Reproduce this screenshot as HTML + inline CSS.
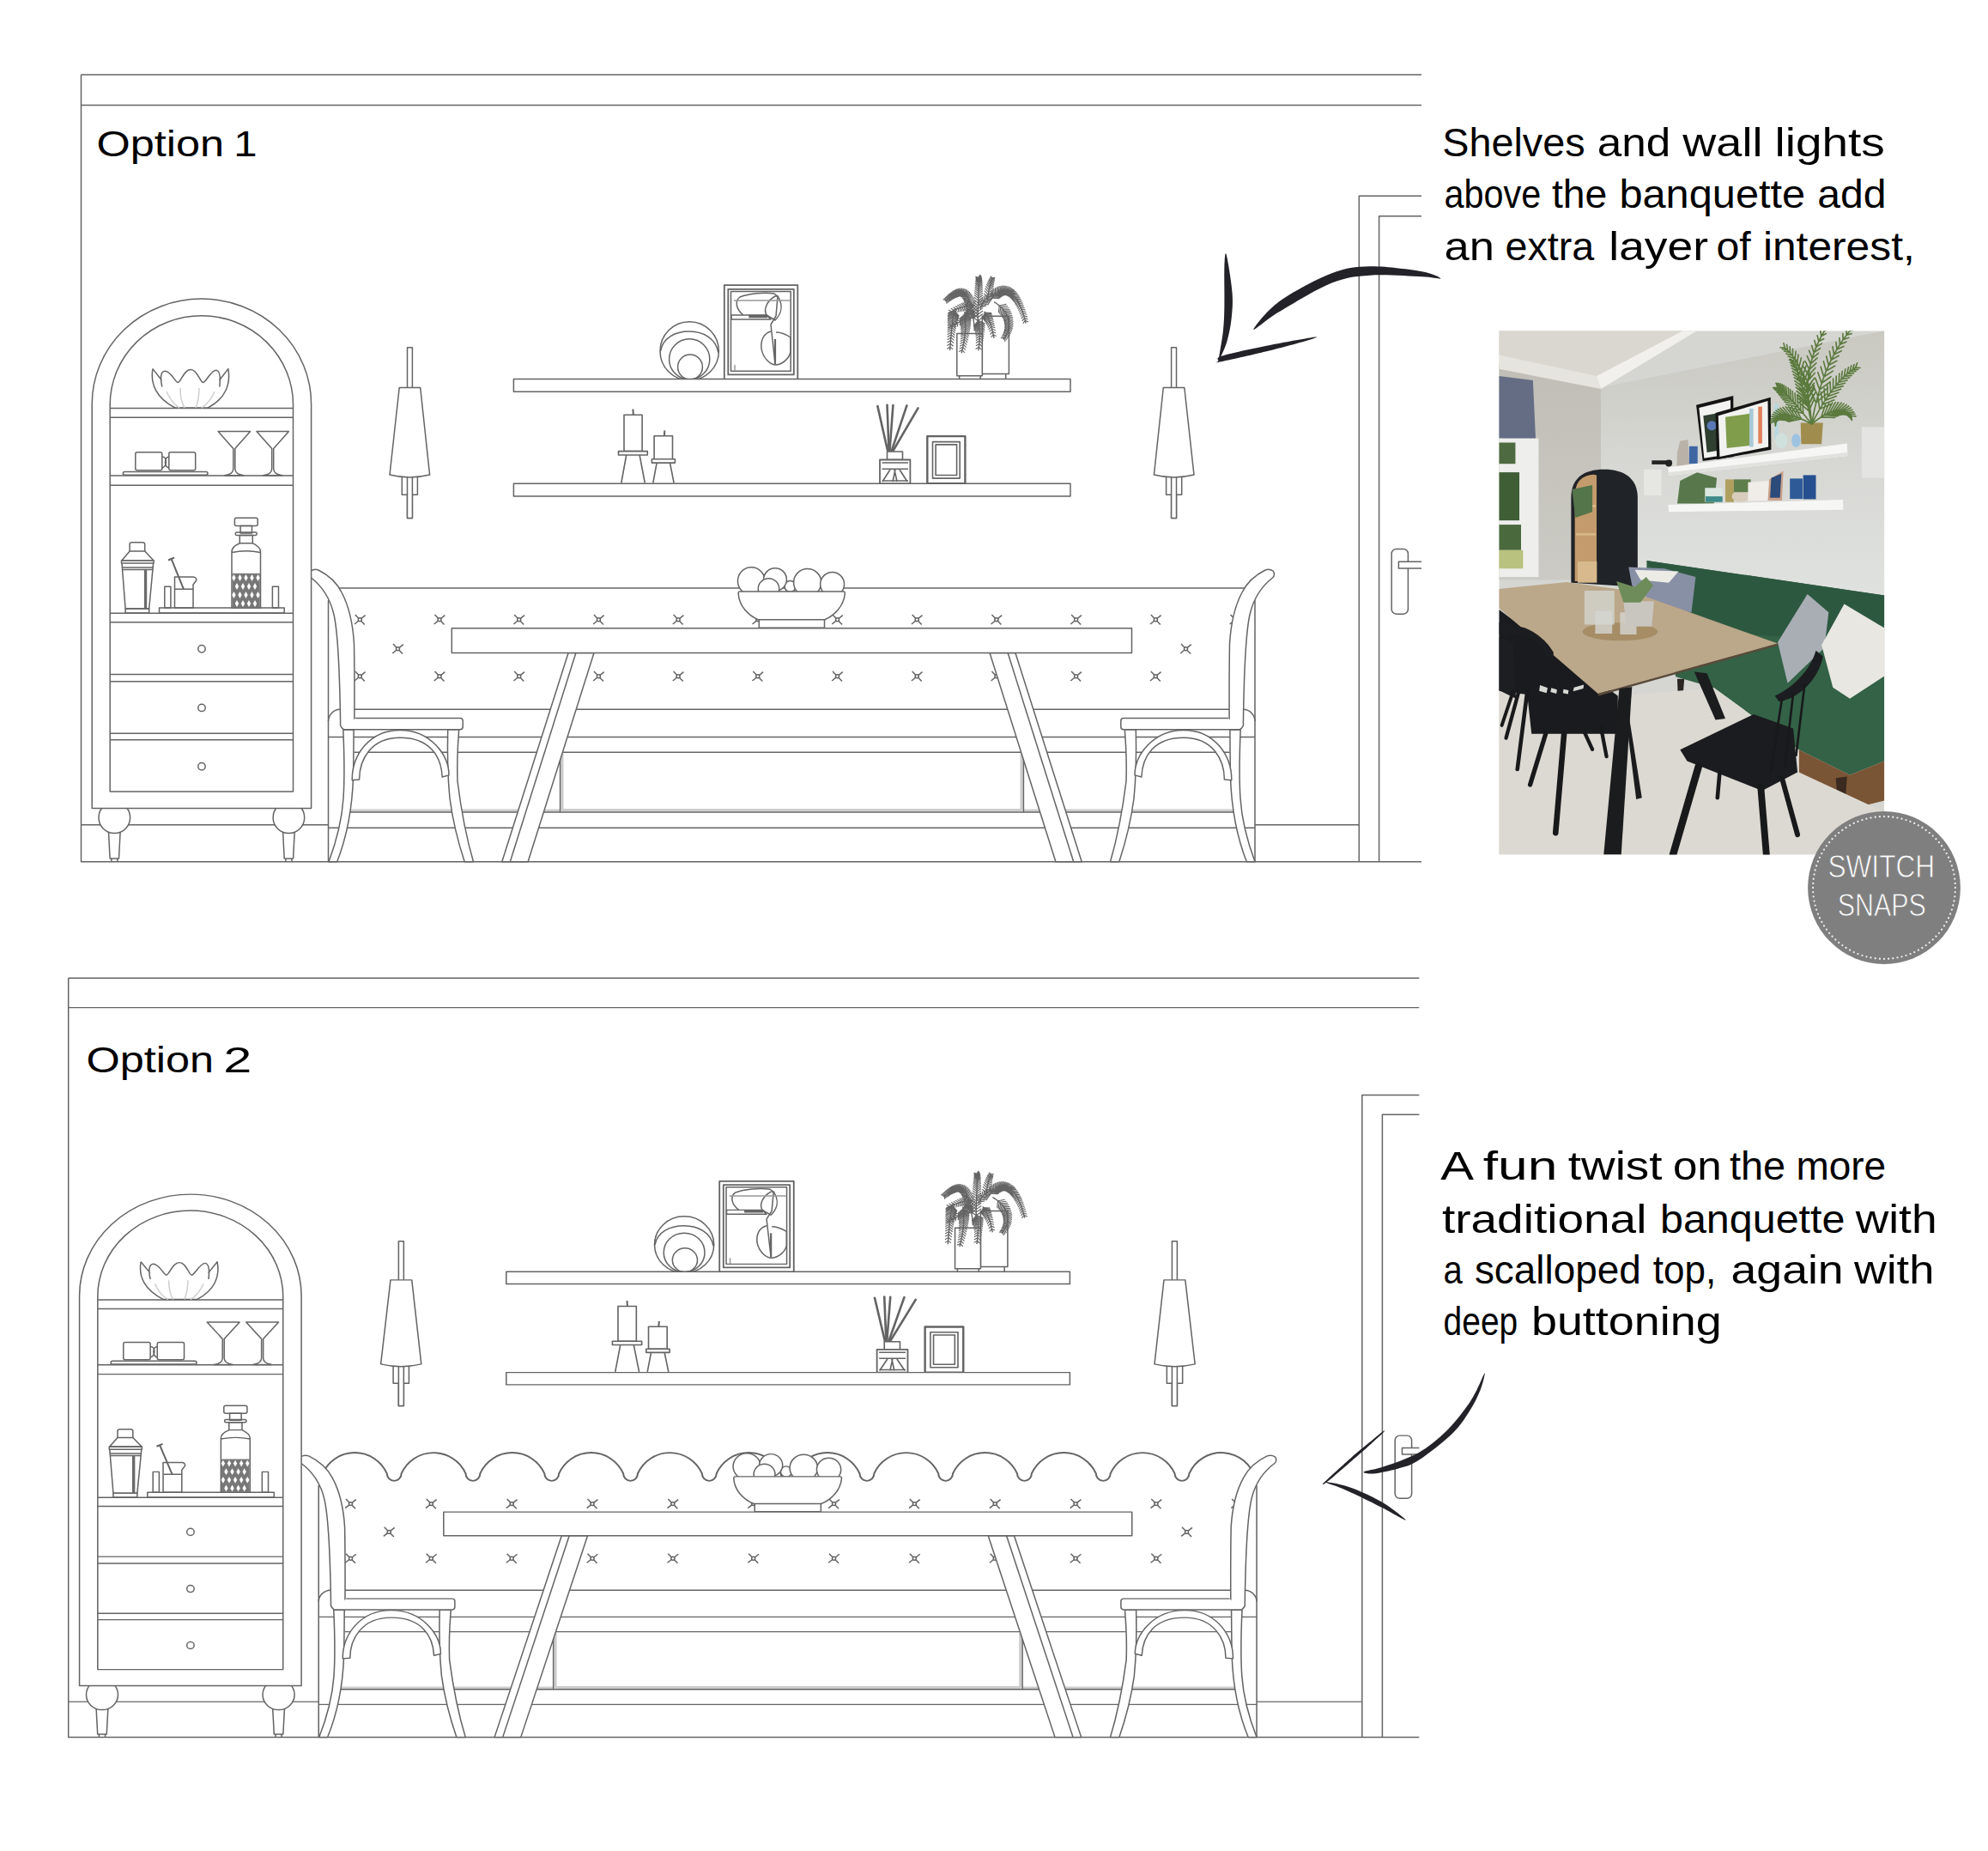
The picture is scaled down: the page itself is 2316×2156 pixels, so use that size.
<!DOCTYPE html><html><head><meta charset="utf-8"><style>html,body{margin:0;padding:0;background:#fff;overflow:hidden;width:2316px;height:2156px;}svg{display:block}</style></head><body><svg width="2316" height="2156" viewBox="0 0 2316 2156"><defs><clipPath id="c1"><rect x="0" y="0" width="1656.5" height="1100"/></clipPath><clipPath id="c2"><rect x="0" y="0" width="1653.3" height="2156"/></clipPath></defs><rect width="2316" height="2156" fill="#fff"/><g clip-path="url(#c1)"><g fill="none" stroke="#646464" stroke-width="1.5" stroke-linejoin="round"><path d="M94.5,86.9H1656M94.5,122.6H1656M94.5,86.9V1003.8H1656"/><path d="M94.5,960.8H382.5M1462,960.8H1583.3"/><path d="M1583.3,1003.8V228.3H1656M1606.6,1003.8V251.8H1656"/><rect x="1621.2" y="639.4" width="19.2" height="75.8" rx="5.5"/><path d="M1656,654.3H1629.4V662H1656" fill="#fff"/><circle cx="803.2" cy="408.9" r="34.2" fill="#fff"/><path d="M769.5,409.2C772,394 786,386.1 803.2,386.1C820,386.1 834,395 836.8,410.5"/><path d="M769.5,409.2C770,426 785,441.8 803.2,441.8C821,441.8 836,426 836.8,410.5" stroke="none"/><circle cx="803.2" cy="418.4" r="23.6"/><circle cx="804" cy="427.5" r="14.4"/><rect x="843.8" y="332.2" width="85.5" height="109.6" fill="#fff" stroke-width="1.8"/><rect x="848.3" y="336.8" width="76.5" height="99.6" stroke-width="1.8"/><rect x="851.5" y="339.5" width="69.7" height="92.8"/><path d="M866,367C857,360 856,350 862,346C872,342 890,340 902,342L907,346"/><path d="M852,367H893L898,372H852Z"/><path d="M872.3,368.5H894" stroke-width="3.5"/><path d="M903,345C894,350 889,360 893,367L903,373C910,366 913,356 906,345Z"/><path d="M906,345L904,368L898,378L903,424"/><path d="M898,386C890,388 886,396 887,406C889,418 898,425 904,425C912,424 919,418 921,410V393C915,389 908,387 904,387"/><path d="M903,395V424" stroke-width="2.2"/><path d="M856,425V432M855,350H921" stroke="#999"/><path d="M1144.3,368.2H1175.4V435.5H1144.3Z" fill="#fff"/><path d="M1171.7,435.5V441.9"/><path d="M1114.8,388.6H1144.3V437.8H1114.8Z" fill="#fff"/><path d="M1117.6,437.8V441.9M1142.2,437.8V441.9"/><path d="M1135.4,385.6L1135.1,381.6L1134.8,377.9L1134.4,374.4L1134.0,371.0L1133.6,367.9L1133.1,365.0L1132.6,362.2L1132.1,359.7L1131.5,357.3L1130.9,355.1L1130.3,353.1L1129.6,351.2L1128.9,349.6L1128.2,348.0L1127.4,346.7L1126.6,345.5L1125.8,344.4L1124.9,343.5L1124.1,342.8L1123.1,342.1L1122.2,341.7L1121.2,341.3L1120.2,341.0L1119.2,340.9L1118.2,340.9L1117.1,341.0L1116.0,341.3L1114.9,341.6L1113.8,342.0L1112.6,342.5L1111.4,343.1L1110.2,343.8L1109.0,344.6L1107.8,345.5L1106.5,346.4L1105.2,347.4L1103.9,348.5L1102.6,349.6L1101.3,350.8M1139.0,385.6L1139.0,381.5L1139.0,377.5L1139.1,373.6L1139.1,369.8L1139.2,366.2L1139.3,362.7L1139.4,359.3L1139.5,356.1L1139.6,353.0L1139.7,350.1L1139.8,347.3L1139.9,344.6L1140.0,342.1L1140.1,339.7L1140.1,337.5L1140.2,335.4L1140.3,333.5L1140.3,331.7L1140.4,330.1L1140.4,328.7L1140.4,327.3L1140.4,326.2L1140.3,325.2L1140.3,324.4L1140.2,323.7L1140.1,323.2L1139.9,322.9M1150.5,350.0L1150.9,346.4L1151.3,343.2L1151.8,340.3L1152.2,337.6L1152.7,335.2L1153.2,333.1L1153.8,331.1L1154.3,329.3L1154.8,327.6L1155.4,325.9L1155.9,324.4L1156.5,322.9M1150.5,355.4L1151.6,353.5L1152.7,351.7L1153.9,350.1L1155.0,348.5L1156.2,347.1L1157.3,345.7L1158.5,344.5L1159.7,343.4L1160.9,342.4L1162.1,341.6L1163.2,340.8L1164.4,340.2L1165.6,339.6L1166.8,339.2L1168.0,339.0L1169.2,338.8L1170.4,338.8L1171.6,338.8L1172.7,339.0L1173.9,339.4L1175.1,339.8L1176.2,340.4L1177.4,341.1L1178.5,342.0L1179.6,342.9L1180.7,344.0L1181.8,345.2L1182.9,346.6L1184.0,348.1L1185.0,349.7L1186.0,351.4L1187.0,353.3L1188.0,355.4L1189.0,357.5L1190.0,359.8L1190.9,362.2L1191.8,364.8L1192.6,367.5L1193.5,370.4L1194.3,373.4L1195.1,376.5M1158.0,351.6L1160.2,353.0L1162.3,354.5L1164.2,356.0L1165.9,357.6L1167.5,359.2L1168.9,360.9L1170.2,362.6L1171.4,364.4L1172.4,366.2L1173.2,368.0L1173.9,369.8L1174.5,371.7L1174.9,373.6L1175.1,375.5L1175.3,377.4L1175.2,379.3L1175.1,381.1L1174.8,383.0L1174.3,384.9L1173.7,386.7L1173.0,388.5L1172.1,390.3L1171.1,392.0L1169.9,393.7L1168.6,395.4M1146.7,362.9L1147.4,364.0L1148.2,365.2L1148.9,366.5L1149.7,367.8L1150.5,369.4L1151.4,371.1L1152.2,373.0L1153.0,375.1L1153.9,377.4L1154.7,380.1L1155.6,383.0L1156.4,386.3L1157.2,389.9L1158.0,393.9M1139.0,370.5L1139.4,371.9L1139.7,373.3L1140.1,374.8L1140.4,376.4L1140.7,378.0L1141.0,379.8L1141.2,381.7L1141.4,383.7L1141.5,385.9L1141.5,388.3L1141.5,391.0L1141.3,393.9L1141.1,397.0L1140.8,400.5L1140.4,404.2L1139.9,408.3M1124.0,362.9L1124.1,364.5L1124.3,366.1L1124.4,367.7L1124.6,369.4L1124.7,371.1L1124.8,372.9L1124.8,374.7L1124.8,376.6L1124.8,378.5L1124.8,380.6L1124.7,382.7L1124.6,385.0L1124.4,387.3L1124.1,389.8L1123.8,392.4L1123.4,395.2L1122.9,398.1L1122.4,401.1L1121.7,404.3L1121.0,407.7L1120.2,411.3M1112.7,359.1L1112.3,360.4L1112.0,361.7L1111.6,363.0L1111.3,364.4L1111.0,365.9L1110.7,367.4L1110.4,369.1L1110.2,370.8L1109.9,372.7L1109.6,374.6L1109.4,376.8L1109.1,379.0L1108.9,381.4L1108.6,384.1L1108.3,386.9L1108.1,389.9L1107.8,393.1L1107.5,396.5L1107.2,400.2L1106.9,404.1L1106.6,408.3M1135.4,355.4L1133.7,355.5L1131.9,355.7L1130.1,355.9L1128.3,356.2L1126.3,356.6L1124.2,357.0L1122.0,357.6L1119.7,358.3L1117.2,359.2L1114.5,360.2L1111.6,361.4L1108.5,362.8L1105.1,364.4M1135.4,359.1L1134.6,360.2L1133.8,361.3L1132.9,362.4L1132.0,363.5L1131.0,364.7L1129.9,365.9L1128.6,367.1L1127.1,368.4L1125.4,369.8L1123.5,371.2L1121.3,372.7L1118.8,374.3L1115.9,376.0L1112.7,377.8L1109.1,379.7L1105.1,381.8M1142.0,360.0L1142.8,357.6L1143.7,355.4L1144.7,353.4L1145.8,351.6L1147.0,350.0L1148.4,348.5L1149.9,347.2L1151.6,346.1L1153.4,345.1L1155.4,344.3L1157.6,343.6L1160.0,343.0" stroke-width="1.4"/><path d="M1134.0,371.0L1140.1,365.0M1134.0,371.0L1126.6,366.9M1133.6,367.9L1139.4,361.9M1133.6,367.9L1126.2,364.0M1133.1,365.0L1138.7,358.9M1133.1,365.0L1125.8,361.3M1132.6,362.2L1138.0,356.1M1132.6,362.2L1125.3,358.8M1132.1,359.7L1137.2,353.5M1132.1,359.7L1124.8,356.5M1131.5,357.3L1136.3,351.1M1131.5,357.3L1124.2,354.4M1130.9,355.1L1135.4,348.8M1130.9,355.1L1123.6,352.5M1130.3,353.1L1134.4,346.7M1130.3,353.1L1123.0,350.9M1129.6,351.2L1133.4,344.8M1129.6,351.2L1122.4,349.4M1128.9,349.6L1132.3,343.0M1128.9,349.6L1121.7,348.2M1128.2,348.0L1131.1,341.4M1128.2,348.0L1121.0,347.1M1127.4,346.7L1129.8,340.0M1127.4,346.7L1120.3,346.3M1126.6,345.5L1128.4,338.8M1126.6,345.5L1119.6,345.6M1125.8,344.4L1126.9,337.7M1125.8,344.4L1119.0,345.2M1124.9,343.5L1125.4,336.8M1124.9,343.5L1118.4,345.0M1124.1,342.8L1123.8,336.2M1124.1,342.8L1117.8,344.9M1123.1,342.1L1122.1,335.8M1123.1,342.1L1117.3,344.9M1122.2,341.7L1120.4,335.6M1122.2,341.7L1116.9,345.1M1121.2,341.3L1118.8,335.6M1121.2,341.3L1116.5,345.2M1120.2,341.0L1117.2,335.8M1120.2,341.0L1116.1,345.5M1119.2,340.9L1115.7,336.2M1119.2,340.9L1115.7,345.7M1118.2,340.9L1114.2,336.7M1118.2,340.9L1115.2,345.9M1117.1,341.0L1112.9,337.3M1117.1,341.0L1114.7,346.2M1116.0,341.3L1111.6,337.9M1116.0,341.3L1114.1,346.5M1114.9,341.6L1110.3,338.6M1114.9,341.6L1113.4,346.8M1113.8,342.0L1109.1,339.4M1113.8,342.0L1112.6,347.2M1112.6,342.5L1107.9,340.3M1112.6,342.5L1111.8,347.7M1111.4,343.1L1106.8,341.2M1111.4,343.1L1110.8,348.2M1110.2,343.8L1105.6,342.1M1110.2,343.8L1109.9,348.8M1109.0,344.6L1104.5,343.1M1109.0,344.6L1108.8,349.4M1107.8,345.5L1103.3,344.1M1107.8,345.5L1107.7,350.2M1106.5,346.4L1102.1,345.2M1106.5,346.4L1106.6,351.0M1105.2,347.4L1100.9,346.4M1105.2,347.4L1105.4,351.8M1103.9,348.5L1099.7,347.6M1103.9,348.5L1104.2,352.8M1102.6,349.6L1098.5,348.8M1102.6,349.6L1103.0,353.8M1139.1,373.6L1145.2,369.2M1139.1,373.6L1133.1,369.0M1139.1,369.8L1145.1,365.5M1139.1,369.8L1133.3,365.3M1139.2,366.2L1145.1,362.0M1139.2,366.2L1133.6,361.7M1139.3,362.7L1145.0,358.6M1139.3,362.7L1133.8,358.3M1139.4,359.3L1145.0,355.4M1139.4,359.3L1134.0,355.1M1139.5,356.1L1145.0,352.3M1139.5,356.1L1134.2,351.9M1139.6,353.0L1144.9,349.3M1139.6,353.0L1134.5,348.9M1139.7,350.1L1144.9,346.5M1139.7,350.1L1134.7,346.1M1139.8,347.3L1144.9,343.7M1139.8,347.3L1134.9,343.4M1139.9,344.6L1144.8,341.2M1139.9,344.6L1135.2,340.8M1140.0,342.1L1144.8,338.8M1140.0,342.1L1135.4,338.4M1140.1,339.7L1144.8,336.5M1140.1,339.7L1135.6,336.1M1140.1,337.5L1144.7,334.3M1140.1,337.5L1135.8,334.0M1140.2,335.4L1144.6,332.3M1140.2,335.4L1136.0,332.1M1140.3,333.5L1144.6,330.5M1140.3,333.5L1136.2,330.2M1140.3,331.7L1144.5,328.8M1140.3,331.7L1136.3,328.6M1140.4,330.1L1144.3,327.2M1140.4,330.1L1136.5,327.1M1140.4,328.7L1144.2,325.8M1140.4,328.7L1136.6,325.8M1140.4,327.3L1144.0,324.5M1140.4,327.3L1136.7,324.7M1140.4,326.2L1143.8,323.4M1140.4,326.2L1136.7,323.7M1140.3,325.2L1143.5,322.4M1140.3,325.2L1136.7,322.9M1140.3,324.4L1143.2,321.5M1140.3,324.4L1136.7,322.4M1140.2,323.7L1142.7,320.7M1140.2,323.7L1136.6,322.2M1140.1,323.2L1141.8,319.9M1140.1,323.2L1136.4,322.4M1150.9,346.4L1156.7,343.1M1150.9,346.4L1146.1,341.8M1151.3,343.2L1156.9,340.2M1151.3,343.2L1146.9,338.7M1151.8,340.3L1157.2,337.6M1151.8,340.3L1147.6,335.9M1152.2,337.6L1157.4,335.2M1152.2,337.6L1148.4,333.4M1152.7,335.2L1157.7,333.1M1152.7,335.2L1149.3,331.1M1153.2,333.1L1157.9,331.2M1153.2,333.1L1150.1,329.1M1153.8,331.1L1158.2,329.4M1153.8,331.1L1150.9,327.3M1154.3,329.3L1158.5,327.8M1154.3,329.3L1151.7,325.6M1154.8,327.6L1158.8,326.3M1154.8,327.6L1152.5,324.2M1155.4,325.9L1159.0,324.8M1155.4,325.9L1153.3,322.8M1155.9,324.4L1159.3,323.4M1155.9,324.4L1154.1,321.5M1156.2,347.1L1164.5,347.7M1156.2,347.1L1154.4,338.9M1157.3,345.7L1165.5,346.8M1157.3,345.7L1156.0,337.6M1158.5,344.5L1166.5,345.9M1158.5,344.5L1157.6,336.4M1159.7,343.4L1167.5,345.3M1159.7,343.4L1159.3,335.4M1160.9,342.4L1168.4,344.7M1160.9,342.4L1160.9,334.5M1162.1,341.6L1169.3,344.3M1162.1,341.6L1162.6,333.8M1163.2,340.8L1170.2,344.0M1163.2,340.8L1164.4,333.2M1164.4,340.2L1171.0,343.9M1164.4,340.2L1166.2,332.8M1165.6,339.6L1171.7,343.8M1165.6,339.6L1167.9,332.6M1166.8,339.2L1172.4,343.9M1166.8,339.2L1169.7,332.5M1168.0,339.0L1173.1,344.1M1168.0,339.0L1171.5,332.7M1169.2,338.8L1173.6,344.3M1169.2,338.8L1173.2,333.0M1170.4,338.8L1174.1,344.6M1170.4,338.8L1174.9,333.5M1171.6,338.8L1174.7,344.9M1171.6,338.8L1176.5,334.2M1172.7,339.0L1175.1,345.3M1172.7,339.0L1178.1,335.0M1173.9,339.4L1175.7,345.7M1173.9,339.4L1179.5,335.9M1175.1,339.8L1176.2,346.2M1175.1,339.8L1180.9,337.0M1176.2,340.4L1176.8,346.7M1176.2,340.4L1182.1,338.1M1177.4,341.1L1177.4,347.3M1177.4,341.1L1183.3,339.3M1178.5,342.0L1178.1,348.0M1178.5,342.0L1184.5,340.6M1179.6,342.9L1178.8,348.8M1179.6,342.9L1185.5,342.0M1180.7,344.0L1179.6,349.8M1180.7,344.0L1186.6,343.5M1181.8,345.2L1180.4,350.8M1181.8,345.2L1187.6,345.1M1182.9,346.6L1181.2,351.9M1182.9,346.6L1188.5,346.7M1184.0,348.1L1182.1,353.2M1184.0,348.1L1189.4,348.5M1185.0,349.7L1182.9,354.7M1185.0,349.7L1190.4,350.3M1186.0,351.4L1183.8,356.2M1186.0,351.4L1191.2,352.2M1187.0,353.3L1184.7,357.9M1187.0,353.3L1192.1,354.3M1188.0,355.4L1185.6,359.7M1188.0,355.4L1192.9,356.5M1189.0,357.5L1186.5,361.7M1189.0,357.5L1193.7,358.7M1190.0,359.8L1187.4,363.8M1190.0,359.8L1194.5,361.1M1190.9,362.2L1188.3,366.1M1190.9,362.2L1195.3,363.7M1191.8,364.8L1189.2,368.5M1191.8,364.8L1196.1,366.3M1192.6,367.5L1190.0,371.1M1192.6,367.5L1196.8,369.1M1193.5,370.4L1190.9,373.8M1193.5,370.4L1197.5,372.0M1194.3,373.4L1191.7,376.6M1194.3,373.4L1198.2,375.0M1164.2,356.0L1163.4,364.3M1164.2,356.0L1172.4,354.4M1165.9,357.6L1164.6,365.7M1165.9,357.6L1174.0,356.5M1167.5,359.2L1165.8,367.0M1167.5,359.2L1175.5,358.7M1168.9,360.9L1166.8,368.4M1168.9,360.9L1176.7,360.9M1170.2,362.6L1167.6,369.7M1170.2,362.6L1177.8,363.1M1171.4,364.4L1168.3,371.1M1171.4,364.4L1178.7,365.4M1172.4,366.2L1169.0,372.5M1172.4,366.2L1179.4,367.7M1173.2,368.0L1169.5,373.9M1173.2,368.0L1180.0,369.9M1173.9,369.8L1169.9,375.3M1173.9,369.8L1180.3,372.2M1174.5,371.7L1170.1,376.7M1174.5,371.7L1180.5,374.5M1174.9,373.6L1170.3,378.1M1174.9,373.6L1180.5,376.7M1175.1,375.5L1170.4,379.5M1175.1,375.5L1180.4,378.9M1175.3,377.4L1170.4,380.9M1175.3,377.4L1180.0,381.0M1175.2,379.3L1170.3,382.3M1175.2,379.3L1179.6,383.2M1175.1,381.1L1170.1,383.7M1175.1,381.1L1179.0,385.2M1174.8,383.0L1169.8,385.1M1174.8,383.0L1178.2,387.2M1174.3,384.9L1169.3,386.6M1174.3,384.9L1177.3,389.2M1173.7,386.7L1168.8,388.0M1173.7,386.7L1176.3,391.0M1173.0,388.5L1168.2,389.4M1173.0,388.5L1175.1,392.8M1172.1,390.3L1167.5,390.8M1172.1,390.3L1173.9,394.6M1171.1,392.0L1166.6,392.2M1171.1,392.0L1172.5,396.2M1169.9,393.7L1165.7,393.7M1169.9,393.7L1171.0,397.8M1147.4,364.0L1144.7,371.2M1147.4,364.0L1155.1,364.6M1148.2,365.2L1145.4,372.0M1148.2,365.2L1155.5,365.9M1148.9,366.5L1146.1,372.9M1148.9,366.5L1155.9,367.3M1149.7,367.8L1146.9,373.9M1149.7,367.8L1156.4,368.9M1150.5,369.4L1147.6,375.1M1150.5,369.4L1156.9,370.6M1151.4,371.1L1148.4,376.4M1151.4,371.1L1157.3,372.5M1152.2,373.0L1149.2,377.9M1152.2,373.0L1157.8,374.5M1153.0,375.1L1150.0,379.6M1153.0,375.1L1158.3,376.7M1153.9,377.4L1150.9,381.7M1153.9,377.4L1158.8,379.1M1154.7,380.1L1151.8,383.9M1154.7,380.1L1159.3,381.8M1155.6,383.0L1152.7,386.5M1155.6,383.0L1159.7,384.8M1156.4,386.3L1153.6,389.5M1156.4,386.3L1160.2,388.0M1157.2,389.9L1154.6,392.8M1157.2,389.9L1160.7,391.6M1139.7,373.3L1134.4,379.8M1139.7,373.3L1147.4,376.7M1140.1,374.8L1134.8,380.9M1140.1,374.8L1147.4,378.2M1140.4,376.4L1135.1,382.1M1140.4,376.4L1147.4,379.8M1140.7,378.0L1135.5,383.3M1140.7,378.0L1147.3,381.6M1141.0,379.8L1135.8,384.7M1141.0,379.8L1147.1,383.4M1141.2,381.7L1136.1,386.2M1141.2,381.7L1147.0,385.3M1141.4,383.7L1136.3,387.9M1141.4,383.7L1146.8,387.4M1141.5,385.9L1136.6,389.7M1141.5,385.9L1146.5,389.6M1141.5,388.3L1136.7,391.8M1141.5,388.3L1146.2,392.0M1141.5,391.0L1136.9,394.2M1141.5,391.0L1145.8,394.5M1141.3,393.9L1136.9,396.8M1141.3,393.9L1145.4,397.3M1141.1,397.0L1136.9,399.6M1141.1,397.0L1144.8,400.4M1140.8,400.5L1136.8,402.8M1140.8,400.5L1144.2,403.7M1140.4,404.2L1136.6,406.4M1140.4,404.2L1143.5,407.3M1124.3,366.1L1117.9,371.8M1124.3,366.1L1131.5,370.6M1124.4,367.7L1118.2,373.2M1124.4,367.7L1131.4,372.2M1124.6,369.4L1118.4,374.6M1124.6,369.4L1131.3,373.8M1124.7,371.1L1118.7,376.1M1124.7,371.1L1131.1,375.5M1124.8,372.9L1118.8,377.6M1124.8,372.9L1131.0,377.2M1124.8,374.7L1119.0,379.2M1124.8,374.7L1130.8,379.0M1124.8,376.6L1119.2,380.8M1124.8,376.6L1130.5,380.8M1124.8,378.5L1119.3,382.5M1124.8,378.5L1130.3,382.8M1124.8,380.6L1119.3,384.3M1124.8,380.6L1129.9,384.8M1124.7,382.7L1119.4,386.2M1124.7,382.7L1129.6,386.9M1124.6,385.0L1119.3,388.2M1124.6,385.0L1129.2,389.1M1124.4,387.3L1119.3,390.4M1124.4,387.3L1128.7,391.3M1124.1,389.8L1119.2,392.6M1124.1,389.8L1128.2,393.7M1123.8,392.4L1119.0,395.0M1123.8,392.4L1127.7,396.3M1123.4,395.2L1118.8,397.6M1123.4,395.2L1127.0,398.9M1122.9,398.1L1118.5,400.3M1122.9,398.1L1126.3,401.7M1122.4,401.1L1118.1,403.2M1122.4,401.1L1125.6,404.6M1121.7,404.3L1117.6,406.2M1121.7,404.3L1124.7,407.7M1121.0,407.7L1117.1,409.5M1121.0,407.7L1123.8,411.0M1112.0,361.7L1104.1,365.0M1112.0,361.7L1117.3,368.3M1111.6,363.0L1104.1,366.4M1111.6,363.0L1117.0,369.4M1111.3,364.4L1104.0,367.9M1111.3,364.4L1116.6,370.5M1111.0,365.9L1104.0,369.3M1111.0,365.9L1116.3,371.7M1110.7,367.4L1104.0,370.9M1110.7,367.4L1115.9,373.0M1110.4,369.1L1103.9,372.5M1110.4,369.1L1115.6,374.4M1110.2,370.8L1103.9,374.2M1110.2,370.8L1115.2,375.8M1109.9,372.7L1103.9,376.0M1109.9,372.7L1114.8,377.5M1109.6,374.6L1103.9,378.0M1109.6,374.6L1114.4,379.2M1109.4,376.8L1103.8,380.0M1109.4,376.8L1114.0,381.1M1109.1,379.0L1103.8,382.2M1109.1,379.0L1113.6,383.2M1108.9,381.4L1103.8,384.5M1108.9,381.4L1113.2,385.5M1108.6,384.1L1103.7,387.0M1108.6,384.1L1112.8,387.9M1108.3,386.9L1103.7,389.7M1108.3,386.9L1112.4,390.5M1108.1,389.9L1103.6,392.6M1108.1,389.9L1112.0,393.3M1107.8,393.1L1103.6,395.7M1107.8,393.1L1111.5,396.4M1107.5,396.5L1103.5,399.0M1107.5,396.5L1111.1,399.6M1107.2,400.2L1103.4,402.6M1107.2,400.2L1110.6,403.2M1106.9,404.1L1103.3,406.4M1106.9,404.1L1110.1,406.9M1133.7,355.5L1128.5,349.9M1133.7,355.5L1129.7,362.1M1131.9,355.7L1126.9,350.4M1131.9,355.7L1128.3,362.1M1130.1,355.9L1125.2,351.0M1130.1,355.9L1126.8,362.1M1128.3,356.2L1123.4,351.7M1128.3,356.2L1125.3,362.2M1126.3,356.6L1121.5,352.5M1126.3,356.6L1123.7,362.3M1124.2,357.0L1119.6,353.3M1124.2,357.0L1122.0,362.6M1122.0,357.6L1117.5,354.3M1122.0,357.6L1120.1,362.9M1119.7,358.3L1115.3,355.3M1119.7,358.3L1118.0,363.3M1117.2,359.2L1113.0,356.5M1117.2,359.2L1115.8,363.9M1114.5,360.2L1110.5,357.8M1114.5,360.2L1113.3,364.7M1111.6,361.4L1107.8,359.3M1111.6,361.4L1110.6,365.6M1108.5,362.8L1105.0,361.0M1108.5,362.8L1107.7,366.6M1133.8,361.3L1126.3,361.2M1133.8,361.3L1135.8,368.5M1132.9,362.4L1125.7,362.2M1132.9,362.4L1134.7,369.4M1132.0,363.5L1125.1,363.0M1132.0,363.5L1133.4,370.3M1131.0,364.7L1124.4,363.9M1131.0,364.7L1132.1,371.2M1129.9,365.9L1123.6,364.9M1129.9,365.9L1130.6,372.2M1128.6,367.1L1122.6,365.9M1128.6,367.1L1129.1,373.2M1127.1,368.4L1121.5,367.0M1127.1,368.4L1127.3,374.2M1125.4,369.8L1120.1,368.2M1125.4,369.8L1125.4,375.3M1123.5,371.2L1118.5,369.5M1123.5,371.2L1123.3,376.5M1121.3,372.7L1116.6,371.0M1121.3,372.7L1120.9,377.7M1118.8,374.3L1114.4,372.5M1118.8,374.3L1118.3,379.0M1115.9,376.0L1111.9,374.2M1115.9,376.0L1115.4,380.4M1112.7,377.8L1109.0,376.1M1112.7,377.8L1112.1,381.9M1109.1,379.7L1105.7,378.0M1109.1,379.7L1108.5,383.6M1142.8,357.6L1149.2,355.9M1142.8,357.6L1139.3,351.9M1143.7,355.4L1149.9,354.2M1143.7,355.4L1140.8,349.7M1144.7,353.4L1150.7,352.8M1144.7,353.4L1142.4,347.8M1145.8,351.6L1151.5,351.6M1145.8,351.6L1144.2,346.1M1147.0,350.0L1152.4,350.5M1147.0,350.0L1146.1,344.6M1148.4,348.5L1153.3,349.6M1148.4,348.5L1148.1,343.4M1149.9,347.2L1154.4,348.8M1149.9,347.2L1150.1,342.5M1151.6,346.1L1155.6,347.9M1151.6,346.1L1152.2,341.7M1153.4,345.1L1156.9,347.2M1153.4,345.1L1154.4,341.1M1155.4,344.3L1158.5,346.5M1155.4,344.3L1156.7,340.7M1157.6,343.6L1160.3,345.8M1157.6,343.6L1159.0,340.4" stroke-width="1.15"/><rect x="727" y="483.2" width="21.1" height="42.4" fill="#fff" stroke-width="1.6"/><path d="M737.4,476.5L737.8,483" stroke-width="2"/><rect x="720.5" y="525.6" width="33.8" height="4.4" fill="#fff" stroke-width="1.6"/><path d="M729.7,530L723.8,562.5M745.1,530L751.3,562.5" stroke-width="1.6"/><rect x="762.1" y="507.8" width="21.4" height="27" fill="#fff" stroke-width="1.6"/><path d="M774.3,501.3L773.8,507.8" stroke-width="2"/><rect x="759.4" y="534.8" width="27" height="4.3" fill="#fff" stroke-width="1.6"/><path d="M765.1,539.1L760.8,562.5M780.5,539.1L785.1,562.5" stroke-width="1.6"/><path d="M1022.4,473.1L1034.3,526" stroke-width="2.6" stroke-linecap="round"/><path d="M1033.5,471.8L1035.6,526" stroke-width="2.6" stroke-linecap="round"/><path d="M1040.4,472.1L1036.4,526" stroke-width="2.6" stroke-linecap="round"/><path d="M1056.4,472.4L1038.4,526" stroke-width="2.6" stroke-linecap="round"/><path d="M1069.5,475.4L1039.9,526" stroke-width="2.6" stroke-linecap="round"/><rect x="1033.5" y="526" width="18" height="9.5" fill="#fff" stroke-width="1.6"/><rect x="1025" y="535.5" width="35.4" height="27.8" fill="#fff" stroke-width="1.8"/><path d="M1027.5,546.3H1058M1027.5,539H1058M1028,561L1037,547M1057,561L1048,547M1040,561L1043,547M1045,561L1042,547M1027.5,560H1058" stroke-width="1.6"/><rect x="1080.3" y="508.1" width="44.1" height="55.2" fill="#fff" stroke-width="2.4"/><rect x="1086.5" y="514.6" width="31.7" height="42.5" stroke-width="1.6"/><rect x="1090.1" y="517.9" width="24.5" height="35.6" stroke-width="1.6"/><rect x="598.4" y="441.5" width="648.6" height="14.8" fill="#fff"/><rect x="598.4" y="563.2" width="648.6" height="14.8" fill="#fff"/><rect x="474.5" y="404.7" width="5.9" height="198.9" fill="#fff"/><rect x="468.3" y="553" width="18.1" height="23.3" fill="#fff"/><rect x="474.5" y="553" width="5.9" height="50.6" fill="#fff"/><path d="M465.2,451.5H489.7L500.6,553.1Q477.4,559 454,553.1Z" fill="#fff"/><g transform="translate(1845,0) scale(-1,1)"><rect x="474.5" y="404.7" width="5.9" height="198.9" fill="#fff"/><rect x="468.3" y="553" width="18.1" height="23.3" fill="#fff"/><rect x="474.5" y="553" width="5.9" height="50.6" fill="#fff"/><path d="M465.2,451.5H489.7L500.6,553.1Q477.4,559 454,553.1Z" fill="#fff"/></g><path d="M382.5,699.3V1003.8M1462,699.3V1003.8"/><path d="M396,826.2H1448.5M382.5,858.4H1462M412.5,876.3H1432.5M382.5,964.2H1462"/><path d="M382.5,840A14,14 0 0 1 396,826.2M1462,840A14,14 0 0 0 1448.5,826.2"/><path d="M402,944H652.6M1192.4,944H1443" stroke="#ccc" stroke-width="3"/><path d="M402,946H652.6M1192.4,946H1443"/><path d="M655,878V943.5H1190V878" stroke="#ccc" stroke-width="3" fill="none"/><path d="M652.6,876.3V946H1192.4V876.3"/><path d="M413.8,716.0L424.8,727.6M425.6,716.6L413.0,727.0"/><circle cx="419.3" cy="721.8" r="2" fill="#fff"/><path d="M413.8,782.0L424.8,793.6M425.6,782.6L413.0,793.0"/><circle cx="419.3" cy="787.8" r="2" fill="#fff"/><path d="M506.5,716.0L517.5,727.6M518.3,716.6L505.7,727.0"/><circle cx="512.0" cy="721.8" r="2" fill="#fff"/><path d="M506.5,782.0L517.5,793.6M518.3,782.6L505.7,793.0"/><circle cx="512.0" cy="787.8" r="2" fill="#fff"/><path d="M599.2,716.0L610.2,727.6M611.0,716.6L598.4,727.0"/><circle cx="604.7" cy="721.8" r="2" fill="#fff"/><path d="M599.2,782.0L610.2,793.6M611.0,782.6L598.4,793.0"/><circle cx="604.7" cy="787.8" r="2" fill="#fff"/><path d="M691.9,716.0L702.9,727.6M703.7,716.6L691.1,727.0"/><circle cx="697.4" cy="721.8" r="2" fill="#fff"/><path d="M691.9,782.0L702.9,793.6M703.7,782.6L691.1,793.0"/><circle cx="697.4" cy="787.8" r="2" fill="#fff"/><path d="M784.6,716.0L795.6,727.6M796.4,716.6L783.8,727.0"/><circle cx="790.1" cy="721.8" r="2" fill="#fff"/><path d="M784.6,782.0L795.6,793.6M796.4,782.6L783.8,793.0"/><circle cx="790.1" cy="787.8" r="2" fill="#fff"/><path d="M877.3,716.0L888.3,727.6M889.1,716.6L876.5,727.0"/><circle cx="882.8" cy="721.8" r="2" fill="#fff"/><path d="M877.3,782.0L888.3,793.6M889.1,782.6L876.5,793.0"/><circle cx="882.8" cy="787.8" r="2" fill="#fff"/><path d="M970.0,716.0L981.0,727.6M981.8,716.6L969.2,727.0"/><circle cx="975.5" cy="721.8" r="2" fill="#fff"/><path d="M970.0,782.0L981.0,793.6M981.8,782.6L969.2,793.0"/><circle cx="975.5" cy="787.8" r="2" fill="#fff"/><path d="M1062.7,716.0L1073.7,727.6M1074.5,716.6L1061.9,727.0"/><circle cx="1068.2" cy="721.8" r="2" fill="#fff"/><path d="M1062.7,782.0L1073.7,793.6M1074.5,782.6L1061.9,793.0"/><circle cx="1068.2" cy="787.8" r="2" fill="#fff"/><path d="M1155.4,716.0L1166.4,727.6M1167.2,716.6L1154.6,727.0"/><circle cx="1160.9" cy="721.8" r="2" fill="#fff"/><path d="M1155.4,782.0L1166.4,793.6M1167.2,782.6L1154.6,793.0"/><circle cx="1160.9" cy="787.8" r="2" fill="#fff"/><path d="M1248.1,716.0L1259.1,727.6M1259.9,716.6L1247.3,727.0"/><circle cx="1253.6" cy="721.8" r="2" fill="#fff"/><path d="M1248.1,782.0L1259.1,793.6M1259.9,782.6L1247.3,793.0"/><circle cx="1253.6" cy="787.8" r="2" fill="#fff"/><path d="M1340.8,716.0L1351.8,727.6M1352.6,716.6L1340.0,727.0"/><circle cx="1346.3" cy="721.8" r="2" fill="#fff"/><path d="M1340.8,782.0L1351.8,793.6M1352.6,782.6L1340.0,793.0"/><circle cx="1346.3" cy="787.8" r="2" fill="#fff"/><path d="M1433.5,716.0L1444.5,727.6M1445.3,716.6L1432.7,727.0"/><circle cx="1439.0" cy="721.8" r="2" fill="#fff"/><path d="M1433.5,782.0L1444.5,793.6M1445.3,782.6L1432.7,793.0"/><circle cx="1439.0" cy="787.8" r="2" fill="#fff"/><path d="M458.0,750.0L469.0,761.6M469.8,750.6L457.2,761.0"/><circle cx="463.5" cy="755.8" r="2" fill="#fff"/><path d="M1376.0,750.0L1387.0,761.6M1387.8,750.6L1375.2,761.0"/><circle cx="1381.5" cy="755.8" r="2" fill="#fff"/><path d="M382.5,685H1462"/><circle cx="920.6" cy="683" r="6.5" fill="#fff"/><circle cx="875.3" cy="676.7" r="15.85" fill="#fff"/><circle cx="903" cy="675.1" r="13.4" fill="#fff"/><circle cx="940.7" cy="678.5" r="16.05" fill="#fff"/><circle cx="969.6" cy="680.5" r="13.95" fill="#fff"/><circle cx="895.5" cy="686" r="12.25" fill="#fff"/><path d="M884.3,721.7V731.3H960.5V721.7" fill="#fff"/><path d="M862,688.9H982.5C984,688.9 984.5,690 984.3,691.5C983,706 972,717 960.9,721.7H883.2C872,717 861,706 860.2,691.5C860,690 860.5,688.9 862,688.9Z" fill="#fff"/><path d="M662.1,760.4L584.8,1003.8H615.1L692,760.4Z" fill="#fff"/><path d="M670.9,760.4L594.3,1003.8"/><path d="M1182.9,760.4L1260.2,1003.8H1229.9L1153,760.4Z" fill="#fff"/><path d="M1174.1,760.4L1250.7,1003.8"/><rect x="526.3" y="731.7" width="792.2" height="28.7" fill="#fff"/><path d="M399.8,849.7C401,880 402,900 400,930C398,960 390,985 383,1003.8H392.7C400,985 410,950 411.5,906C412,880 412,860 412.1,849.7Z" fill="#fff"/><path d="M521.7,849.7C521,880 521,900 524,930C528,960 535,985 541.2,1003.8H551.5C546,985 538,950 533,910C532,880 534,860 534.7,849.7Z" fill="#fff"/><path d="M410.2,908.7C410,880 430,850.4 466,850.4C502,850.4 523,880 523,902.9L515.2,905C514,880 500,859.2 466,859.2C432,859.2 418.6,885 418.6,908Z" fill="#fff"/><path d="M400.5,849.7C397,847 396,845 396.6,842.6C396,800 395,740 388.7,714.8C384,695 374,682 362.5,673C360,671 360,667 362,665C365,663 368,663 371,664C385,671 393,680 398,690C406,705 411,725 412.5,750C413,780 413,820 412.8,849.7Z" fill="#fff"/><path d="M400.5,849.7H536C538,849.7 539.2,848.5 539.2,846.5V839.5C539.2,837.5 538,836.4 536,836.4H414" fill="#fff"/><g transform="translate(1845,0) scale(-1,1)"><path d="M399.8,849.7C401,880 402,900 400,930C398,960 390,985 383,1003.8H392.7C400,985 410,950 411.5,906C412,880 412,860 412.1,849.7Z" fill="#fff"/><path d="M521.7,849.7C521,880 521,900 524,930C528,960 535,985 541.2,1003.8H551.5C546,985 538,950 533,910C532,880 534,860 534.7,849.7Z" fill="#fff"/><path d="M410.2,908.7C410,880 430,850.4 466,850.4C502,850.4 523,880 523,902.9L515.2,905C514,880 500,859.2 466,859.2C432,859.2 418.6,885 418.6,908Z" fill="#fff"/><path d="M400.5,849.7C397,847 396,845 396.6,842.6C396,800 395,740 388.7,714.8C384,695 374,682 362.5,673C360,671 360,667 362,665C365,663 368,663 371,664C385,671 393,680 398,690C406,705 411,725 412.5,750C413,780 413,820 412.8,849.7Z" fill="#fff"/><path d="M400.5,849.7H536C538,849.7 539.2,848.5 539.2,846.5V839.5C539.2,837.5 538,836.4 536,836.4H414" fill="#fff"/></g><path d="M126.50000000000001,969 L128.10000000000002,1000 H138.5 L140.10000000000002,969Z" fill="#fff"/><path d="M129.8,1000 V1003.8 M136.8,1000 V1003.8"/><circle cx="133.3" cy="952.3" r="18.3" fill="#fff"/><path d="M329.59999999999997,969 L331.2,1000 H341.59999999999997 L343.2,969Z" fill="#fff"/><path d="M332.9,1000 V1003.8 M339.9,1000 V1003.8"/><circle cx="336.4" cy="952.3" r="18.3" fill="#fff"/><path d="M107.2,941.4V470.7A127.7,122.6 0 0 1 362.6,470.7V941.4Z" fill="#fff"/><path d="M128.2,921.9V471.5A106.65,103.8 0 0 1 341.5,471.5V921.9Z"/><path d="M128.2,475.4H341.5M128.2,486.3H341.5M128.2,554.1H341.5M128.2,565.3H341.5M128.2,714.2H341.5M128.2,724.8H341.5M128.2,785.6H341.5M128.2,793.8H341.5M128.2,854.2H341.5M128.2,861.8H341.5"/><circle cx="235" cy="755.8" r="4.2"/><circle cx="235" cy="824.4" r="4.2"/><circle cx="235" cy="892.7" r="4.2"/><path d="M177.9,429.6C175,447 182,464 203.9,475 H242.4C263,464 269,447 265.8,429.6L255.5,443" fill="#fff"/><path d="M177.9,429.6L188.5,443M188.8,450.6C186,438 188,432.5 192,432.2C199,432 204,445 207.2,445.6C211,445 214,430.5 222.3,430.5C230,430.5 233,445 236.5,445.6C240,445 246,431 252,431.3C256,432 257,440 255.8,450.6"/><path d="M194,456C198,465 204,472 209,475M210,452C210,462 212,470 215,475M232,452C232,462 230,470 228,475M250,456C246,465 240,472 235,475" stroke="#cfcfcf"/><rect x="143.3" y="549.4" width="98.7" height="3.8" rx="1.9"/><rect x="157.8" y="526.8" width="31" height="21" rx="2"/><rect x="196.8" y="526.8" width="30.9" height="21" rx="2"/><path d="M188.8,532C195,532 195,543 188.8,545M196.8,532C191,533 191,543 196.8,545"/><path d="M254.1,502.5H291.5L273.8,522.6V546C273.8,551 278.8,553 283.8,553.8H261.8C266.8,553 271.8,551 271.8,546V522.6Z"/><path d="M299,502.5H336.4L318.7,522.6V546C318.7,551 323.7,553 328.7,553.8H306.7C311.7,553 316.7,551 316.7,546V522.6Z"/><path d="M151.1,641.9V634C151.1,632.5 152,631.8 154,631.8H166C168,631.8 168.7,632.5 168.7,634V641.9"/><path d="M151.1,641.9L141.9,652.8H178.8L168.7,641.9Z"/><rect x="141.5" y="652.8" width="37.6" height="3.3"/><path d="M142,661.1H178.6M142.5,663.6H178.3" /><path d="M142,656.1L146.1,708.9H173.7L178.6,656.1"/><rect x="146.1" y="708.9" width="27.6" height="5"/><rect x="167.9" y="663.6" width="3.3" height="45.3" fill="#6a6a6a" stroke="none"/><rect x="185.5" y="708" width="145.7" height="5.9"/><rect x="191.8" y="683.2" width="7.1" height="24.8"/><rect x="317.4" y="683.2" width="7.1" height="24.8"/><path d="M203.5,708V672H225C228,672 229,674 228.7,676L225,681V708Z"/><path d="M204,686.2H225"/><path d="M199.7,651.1L213.9,686.2M196,652.5L203,649.5" stroke-width="2"/><rect x="273.4" y="603.3" width="26.8" height="9.3" rx="2"/><rect x="280.1" y="612.6" width="13.4" height="8.3"/><rect x="274.2" y="620.1" width="25.1" height="3.3" rx="1.6"/><rect x="279.3" y="623.4" width="15" height="9.3"/><path d="M279.3,632.7C274,635 270,639 270,642.7V708H303.5V642.7C303.5,639 299,635 294.3,632.7"/><path d="M270,643.5Q286.7,640 303.5,643.5"/><rect x="270.7" y="667.8" width="32.1" height="40" fill="#777" stroke="none"/><path d="M272.5,669L274.7,673L272.5,677L270.3,673ZM279.5,669L281.7,673L279.5,677L277.3,673ZM286.5,669L288.7,673L286.5,677L284.3,673ZM293.5,669L295.7,673L293.5,677L291.3,673ZM300.5,669L302.7,673L300.5,677L298.3,673ZM276.0,679L278.2,683L276.0,687L273.8,683ZM283.0,679L285.2,683L283.0,687L280.8,683ZM290.0,679L292.2,683L290.0,687L287.8,683ZM297.0,679L299.2,683L297.0,687L294.8,683ZM272.5,689L274.7,693L272.5,697L270.3,693ZM279.5,689L281.7,693L279.5,697L277.3,693ZM286.5,689L288.7,693L286.5,697L284.3,693ZM293.5,689L295.7,693L293.5,697L291.3,693ZM300.5,689L302.7,693L300.5,697L298.3,693ZM276.0,699L278.2,703L276.0,707L273.8,703ZM283.0,699L285.2,703L283.0,707L280.8,703ZM290.0,699L292.2,703L290.0,707L287.8,703ZM297.0,699L299.2,703L297.0,707L294.8,703Z" fill="#fff" stroke="none"/></g></g><g clip-path="url(#c2)"><g transform="matrix(1.0123,0,0,0.96455,-15.96,1055.38)" fill="none" stroke="#646464" stroke-width="1.5" stroke-linejoin="round"><path d="M94.5,86.9H1656M94.5,122.6H1656M94.5,86.9V1003.8H1656"/><path d="M94.5,960.8H382.5M1462,960.8H1583.3"/><path d="M1583.3,1003.8V228.3H1656M1606.6,1003.8V251.8H1656"/><rect x="1621.2" y="639.4" width="19.2" height="75.8" rx="5.5"/><path d="M1656,654.3H1629.4V662H1656" fill="#fff"/><circle cx="803.2" cy="408.9" r="34.2" fill="#fff"/><path d="M769.5,409.2C772,394 786,386.1 803.2,386.1C820,386.1 834,395 836.8,410.5"/><path d="M769.5,409.2C770,426 785,441.8 803.2,441.8C821,441.8 836,426 836.8,410.5" stroke="none"/><circle cx="803.2" cy="418.4" r="23.6"/><circle cx="804" cy="427.5" r="14.4"/><rect x="843.8" y="332.2" width="85.5" height="109.6" fill="#fff" stroke-width="1.8"/><rect x="848.3" y="336.8" width="76.5" height="99.6" stroke-width="1.8"/><rect x="851.5" y="339.5" width="69.7" height="92.8"/><path d="M866,367C857,360 856,350 862,346C872,342 890,340 902,342L907,346"/><path d="M852,367H893L898,372H852Z"/><path d="M872.3,368.5H894" stroke-width="3.5"/><path d="M903,345C894,350 889,360 893,367L903,373C910,366 913,356 906,345Z"/><path d="M906,345L904,368L898,378L903,424"/><path d="M898,386C890,388 886,396 887,406C889,418 898,425 904,425C912,424 919,418 921,410V393C915,389 908,387 904,387"/><path d="M903,395V424" stroke-width="2.2"/><path d="M856,425V432M855,350H921" stroke="#999"/><path d="M1144.3,368.2H1175.4V435.5H1144.3Z" fill="#fff"/><path d="M1171.7,435.5V441.9"/><path d="M1114.8,388.6H1144.3V437.8H1114.8Z" fill="#fff"/><path d="M1117.6,437.8V441.9M1142.2,437.8V441.9"/><path d="M1135.4,385.6L1135.1,381.6L1134.8,377.9L1134.4,374.4L1134.0,371.0L1133.6,367.9L1133.1,365.0L1132.6,362.2L1132.1,359.7L1131.5,357.3L1130.9,355.1L1130.3,353.1L1129.6,351.2L1128.9,349.6L1128.2,348.0L1127.4,346.7L1126.6,345.5L1125.8,344.4L1124.9,343.5L1124.1,342.8L1123.1,342.1L1122.2,341.7L1121.2,341.3L1120.2,341.0L1119.2,340.9L1118.2,340.9L1117.1,341.0L1116.0,341.3L1114.9,341.6L1113.8,342.0L1112.6,342.5L1111.4,343.1L1110.2,343.8L1109.0,344.6L1107.8,345.5L1106.5,346.4L1105.2,347.4L1103.9,348.5L1102.6,349.6L1101.3,350.8M1139.0,385.6L1139.0,381.5L1139.0,377.5L1139.1,373.6L1139.1,369.8L1139.2,366.2L1139.3,362.7L1139.4,359.3L1139.5,356.1L1139.6,353.0L1139.7,350.1L1139.8,347.3L1139.9,344.6L1140.0,342.1L1140.1,339.7L1140.1,337.5L1140.2,335.4L1140.3,333.5L1140.3,331.7L1140.4,330.1L1140.4,328.7L1140.4,327.3L1140.4,326.2L1140.3,325.2L1140.3,324.4L1140.2,323.7L1140.1,323.2L1139.9,322.9M1150.5,350.0L1150.9,346.4L1151.3,343.2L1151.8,340.3L1152.2,337.6L1152.7,335.2L1153.2,333.1L1153.8,331.1L1154.3,329.3L1154.8,327.6L1155.4,325.9L1155.9,324.4L1156.5,322.9M1150.5,355.4L1151.6,353.5L1152.7,351.7L1153.9,350.1L1155.0,348.5L1156.2,347.1L1157.3,345.7L1158.5,344.5L1159.7,343.4L1160.9,342.4L1162.1,341.6L1163.2,340.8L1164.4,340.2L1165.6,339.6L1166.8,339.2L1168.0,339.0L1169.2,338.8L1170.4,338.8L1171.6,338.8L1172.7,339.0L1173.9,339.4L1175.1,339.8L1176.2,340.4L1177.4,341.1L1178.5,342.0L1179.6,342.9L1180.7,344.0L1181.8,345.2L1182.9,346.6L1184.0,348.1L1185.0,349.7L1186.0,351.4L1187.0,353.3L1188.0,355.4L1189.0,357.5L1190.0,359.8L1190.9,362.2L1191.8,364.8L1192.6,367.5L1193.5,370.4L1194.3,373.4L1195.1,376.5M1158.0,351.6L1160.2,353.0L1162.3,354.5L1164.2,356.0L1165.9,357.6L1167.5,359.2L1168.9,360.9L1170.2,362.6L1171.4,364.4L1172.4,366.2L1173.2,368.0L1173.9,369.8L1174.5,371.7L1174.9,373.6L1175.1,375.5L1175.3,377.4L1175.2,379.3L1175.1,381.1L1174.8,383.0L1174.3,384.9L1173.7,386.7L1173.0,388.5L1172.1,390.3L1171.1,392.0L1169.9,393.7L1168.6,395.4M1146.7,362.9L1147.4,364.0L1148.2,365.2L1148.9,366.5L1149.7,367.8L1150.5,369.4L1151.4,371.1L1152.2,373.0L1153.0,375.1L1153.9,377.4L1154.7,380.1L1155.6,383.0L1156.4,386.3L1157.2,389.9L1158.0,393.9M1139.0,370.5L1139.4,371.9L1139.7,373.3L1140.1,374.8L1140.4,376.4L1140.7,378.0L1141.0,379.8L1141.2,381.7L1141.4,383.7L1141.5,385.9L1141.5,388.3L1141.5,391.0L1141.3,393.9L1141.1,397.0L1140.8,400.5L1140.4,404.2L1139.9,408.3M1124.0,362.9L1124.1,364.5L1124.3,366.1L1124.4,367.7L1124.6,369.4L1124.7,371.1L1124.8,372.9L1124.8,374.7L1124.8,376.6L1124.8,378.5L1124.8,380.6L1124.7,382.7L1124.6,385.0L1124.4,387.3L1124.1,389.8L1123.8,392.4L1123.4,395.2L1122.9,398.1L1122.4,401.1L1121.7,404.3L1121.0,407.7L1120.2,411.3M1112.7,359.1L1112.3,360.4L1112.0,361.7L1111.6,363.0L1111.3,364.4L1111.0,365.9L1110.7,367.4L1110.4,369.1L1110.2,370.8L1109.9,372.7L1109.6,374.6L1109.4,376.8L1109.1,379.0L1108.9,381.4L1108.6,384.1L1108.3,386.9L1108.1,389.9L1107.8,393.1L1107.5,396.5L1107.2,400.2L1106.9,404.1L1106.6,408.3M1135.4,355.4L1133.7,355.5L1131.9,355.7L1130.1,355.9L1128.3,356.2L1126.3,356.6L1124.2,357.0L1122.0,357.6L1119.7,358.3L1117.2,359.2L1114.5,360.2L1111.6,361.4L1108.5,362.8L1105.1,364.4M1135.4,359.1L1134.6,360.2L1133.8,361.3L1132.9,362.4L1132.0,363.5L1131.0,364.7L1129.9,365.9L1128.6,367.1L1127.1,368.4L1125.4,369.8L1123.5,371.2L1121.3,372.7L1118.8,374.3L1115.9,376.0L1112.7,377.8L1109.1,379.7L1105.1,381.8M1142.0,360.0L1142.8,357.6L1143.7,355.4L1144.7,353.4L1145.8,351.6L1147.0,350.0L1148.4,348.5L1149.9,347.2L1151.6,346.1L1153.4,345.1L1155.4,344.3L1157.6,343.6L1160.0,343.0" stroke-width="1.4"/><path d="M1134.0,371.0L1140.1,365.0M1134.0,371.0L1126.6,366.9M1133.6,367.9L1139.4,361.9M1133.6,367.9L1126.2,364.0M1133.1,365.0L1138.7,358.9M1133.1,365.0L1125.8,361.3M1132.6,362.2L1138.0,356.1M1132.6,362.2L1125.3,358.8M1132.1,359.7L1137.2,353.5M1132.1,359.7L1124.8,356.5M1131.5,357.3L1136.3,351.1M1131.5,357.3L1124.2,354.4M1130.9,355.1L1135.4,348.8M1130.9,355.1L1123.6,352.5M1130.3,353.1L1134.4,346.7M1130.3,353.1L1123.0,350.9M1129.6,351.2L1133.4,344.8M1129.6,351.2L1122.4,349.4M1128.9,349.6L1132.3,343.0M1128.9,349.6L1121.7,348.2M1128.2,348.0L1131.1,341.4M1128.2,348.0L1121.0,347.1M1127.4,346.7L1129.8,340.0M1127.4,346.7L1120.3,346.3M1126.6,345.5L1128.4,338.8M1126.6,345.5L1119.6,345.6M1125.8,344.4L1126.9,337.7M1125.8,344.4L1119.0,345.2M1124.9,343.5L1125.4,336.8M1124.9,343.5L1118.4,345.0M1124.1,342.8L1123.8,336.2M1124.1,342.8L1117.8,344.9M1123.1,342.1L1122.1,335.8M1123.1,342.1L1117.3,344.9M1122.2,341.7L1120.4,335.6M1122.2,341.7L1116.9,345.1M1121.2,341.3L1118.8,335.6M1121.2,341.3L1116.5,345.2M1120.2,341.0L1117.2,335.8M1120.2,341.0L1116.1,345.5M1119.2,340.9L1115.7,336.2M1119.2,340.9L1115.7,345.7M1118.2,340.9L1114.2,336.7M1118.2,340.9L1115.2,345.9M1117.1,341.0L1112.9,337.3M1117.1,341.0L1114.7,346.2M1116.0,341.3L1111.6,337.9M1116.0,341.3L1114.1,346.5M1114.9,341.6L1110.3,338.6M1114.9,341.6L1113.4,346.8M1113.8,342.0L1109.1,339.4M1113.8,342.0L1112.6,347.2M1112.6,342.5L1107.9,340.3M1112.6,342.5L1111.8,347.7M1111.4,343.1L1106.8,341.2M1111.4,343.1L1110.8,348.2M1110.2,343.8L1105.6,342.1M1110.2,343.8L1109.9,348.8M1109.0,344.6L1104.5,343.1M1109.0,344.6L1108.8,349.4M1107.8,345.5L1103.3,344.1M1107.8,345.5L1107.7,350.2M1106.5,346.4L1102.1,345.2M1106.5,346.4L1106.6,351.0M1105.2,347.4L1100.9,346.4M1105.2,347.4L1105.4,351.8M1103.9,348.5L1099.7,347.6M1103.9,348.5L1104.2,352.8M1102.6,349.6L1098.5,348.8M1102.6,349.6L1103.0,353.8M1139.1,373.6L1145.2,369.2M1139.1,373.6L1133.1,369.0M1139.1,369.8L1145.1,365.5M1139.1,369.8L1133.3,365.3M1139.2,366.2L1145.1,362.0M1139.2,366.2L1133.6,361.7M1139.3,362.7L1145.0,358.6M1139.3,362.7L1133.8,358.3M1139.4,359.3L1145.0,355.4M1139.4,359.3L1134.0,355.1M1139.5,356.1L1145.0,352.3M1139.5,356.1L1134.2,351.9M1139.6,353.0L1144.9,349.3M1139.6,353.0L1134.5,348.9M1139.7,350.1L1144.9,346.5M1139.7,350.1L1134.7,346.1M1139.8,347.3L1144.9,343.7M1139.8,347.3L1134.9,343.4M1139.9,344.6L1144.8,341.2M1139.9,344.6L1135.2,340.8M1140.0,342.1L1144.8,338.8M1140.0,342.1L1135.4,338.4M1140.1,339.7L1144.8,336.5M1140.1,339.7L1135.6,336.1M1140.1,337.5L1144.7,334.3M1140.1,337.5L1135.8,334.0M1140.2,335.4L1144.6,332.3M1140.2,335.4L1136.0,332.1M1140.3,333.5L1144.6,330.5M1140.3,333.5L1136.2,330.2M1140.3,331.7L1144.5,328.8M1140.3,331.7L1136.3,328.6M1140.4,330.1L1144.3,327.2M1140.4,330.1L1136.5,327.1M1140.4,328.7L1144.2,325.8M1140.4,328.7L1136.6,325.8M1140.4,327.3L1144.0,324.5M1140.4,327.3L1136.7,324.7M1140.4,326.2L1143.8,323.4M1140.4,326.2L1136.7,323.7M1140.3,325.2L1143.5,322.4M1140.3,325.2L1136.7,322.9M1140.3,324.4L1143.2,321.5M1140.3,324.4L1136.7,322.4M1140.2,323.7L1142.7,320.7M1140.2,323.7L1136.6,322.2M1140.1,323.2L1141.8,319.9M1140.1,323.2L1136.4,322.4M1150.9,346.4L1156.7,343.1M1150.9,346.4L1146.1,341.8M1151.3,343.2L1156.9,340.2M1151.3,343.2L1146.9,338.7M1151.8,340.3L1157.2,337.6M1151.8,340.3L1147.6,335.9M1152.2,337.6L1157.4,335.2M1152.2,337.6L1148.4,333.4M1152.7,335.2L1157.7,333.1M1152.7,335.2L1149.3,331.1M1153.2,333.1L1157.9,331.2M1153.2,333.1L1150.1,329.1M1153.8,331.1L1158.2,329.4M1153.8,331.1L1150.9,327.3M1154.3,329.3L1158.5,327.8M1154.3,329.3L1151.7,325.6M1154.8,327.6L1158.8,326.3M1154.8,327.6L1152.5,324.2M1155.4,325.9L1159.0,324.8M1155.4,325.9L1153.3,322.8M1155.9,324.4L1159.3,323.4M1155.9,324.4L1154.1,321.5M1156.2,347.1L1164.5,347.7M1156.2,347.1L1154.4,338.9M1157.3,345.7L1165.5,346.8M1157.3,345.7L1156.0,337.6M1158.5,344.5L1166.5,345.9M1158.5,344.5L1157.6,336.4M1159.7,343.4L1167.5,345.3M1159.7,343.4L1159.3,335.4M1160.9,342.4L1168.4,344.7M1160.9,342.4L1160.9,334.5M1162.1,341.6L1169.3,344.3M1162.1,341.6L1162.6,333.8M1163.2,340.8L1170.2,344.0M1163.2,340.8L1164.4,333.2M1164.4,340.2L1171.0,343.9M1164.4,340.2L1166.2,332.8M1165.6,339.6L1171.7,343.8M1165.6,339.6L1167.9,332.6M1166.8,339.2L1172.4,343.9M1166.8,339.2L1169.7,332.5M1168.0,339.0L1173.1,344.1M1168.0,339.0L1171.5,332.7M1169.2,338.8L1173.6,344.3M1169.2,338.8L1173.2,333.0M1170.4,338.8L1174.1,344.6M1170.4,338.8L1174.9,333.5M1171.6,338.8L1174.7,344.9M1171.6,338.8L1176.5,334.2M1172.7,339.0L1175.1,345.3M1172.7,339.0L1178.1,335.0M1173.9,339.4L1175.7,345.7M1173.9,339.4L1179.5,335.9M1175.1,339.8L1176.2,346.2M1175.1,339.8L1180.9,337.0M1176.2,340.4L1176.8,346.7M1176.2,340.4L1182.1,338.1M1177.4,341.1L1177.4,347.3M1177.4,341.1L1183.3,339.3M1178.5,342.0L1178.1,348.0M1178.5,342.0L1184.5,340.6M1179.6,342.9L1178.8,348.8M1179.6,342.9L1185.5,342.0M1180.7,344.0L1179.6,349.8M1180.7,344.0L1186.6,343.5M1181.8,345.2L1180.4,350.8M1181.8,345.2L1187.6,345.1M1182.9,346.6L1181.2,351.9M1182.9,346.6L1188.5,346.7M1184.0,348.1L1182.1,353.2M1184.0,348.1L1189.4,348.5M1185.0,349.7L1182.9,354.7M1185.0,349.7L1190.4,350.3M1186.0,351.4L1183.8,356.2M1186.0,351.4L1191.2,352.2M1187.0,353.3L1184.7,357.9M1187.0,353.3L1192.1,354.3M1188.0,355.4L1185.6,359.7M1188.0,355.4L1192.9,356.5M1189.0,357.5L1186.5,361.7M1189.0,357.5L1193.7,358.7M1190.0,359.8L1187.4,363.8M1190.0,359.8L1194.5,361.1M1190.9,362.2L1188.3,366.1M1190.9,362.2L1195.3,363.7M1191.8,364.8L1189.2,368.5M1191.8,364.8L1196.1,366.3M1192.6,367.5L1190.0,371.1M1192.6,367.5L1196.8,369.1M1193.5,370.4L1190.9,373.8M1193.5,370.4L1197.5,372.0M1194.3,373.4L1191.7,376.6M1194.3,373.4L1198.2,375.0M1164.2,356.0L1163.4,364.3M1164.2,356.0L1172.4,354.4M1165.9,357.6L1164.6,365.7M1165.9,357.6L1174.0,356.5M1167.5,359.2L1165.8,367.0M1167.5,359.2L1175.5,358.7M1168.9,360.9L1166.8,368.4M1168.9,360.9L1176.7,360.9M1170.2,362.6L1167.6,369.7M1170.2,362.6L1177.8,363.1M1171.4,364.4L1168.3,371.1M1171.4,364.4L1178.7,365.4M1172.4,366.2L1169.0,372.5M1172.4,366.2L1179.4,367.7M1173.2,368.0L1169.5,373.9M1173.2,368.0L1180.0,369.9M1173.9,369.8L1169.9,375.3M1173.9,369.8L1180.3,372.2M1174.5,371.7L1170.1,376.7M1174.5,371.7L1180.5,374.5M1174.9,373.6L1170.3,378.1M1174.9,373.6L1180.5,376.7M1175.1,375.5L1170.4,379.5M1175.1,375.5L1180.4,378.9M1175.3,377.4L1170.4,380.9M1175.3,377.4L1180.0,381.0M1175.2,379.3L1170.3,382.3M1175.2,379.3L1179.6,383.2M1175.1,381.1L1170.1,383.7M1175.1,381.1L1179.0,385.2M1174.8,383.0L1169.8,385.1M1174.8,383.0L1178.2,387.2M1174.3,384.9L1169.3,386.6M1174.3,384.9L1177.3,389.2M1173.7,386.7L1168.8,388.0M1173.7,386.7L1176.3,391.0M1173.0,388.5L1168.2,389.4M1173.0,388.5L1175.1,392.8M1172.1,390.3L1167.5,390.8M1172.1,390.3L1173.9,394.6M1171.1,392.0L1166.6,392.2M1171.1,392.0L1172.5,396.2M1169.9,393.7L1165.7,393.7M1169.9,393.7L1171.0,397.8M1147.4,364.0L1144.7,371.2M1147.4,364.0L1155.1,364.6M1148.2,365.2L1145.4,372.0M1148.2,365.2L1155.5,365.9M1148.9,366.5L1146.1,372.9M1148.9,366.5L1155.9,367.3M1149.7,367.8L1146.9,373.9M1149.7,367.8L1156.4,368.9M1150.5,369.4L1147.6,375.1M1150.5,369.4L1156.9,370.6M1151.4,371.1L1148.4,376.4M1151.4,371.1L1157.3,372.5M1152.2,373.0L1149.2,377.9M1152.2,373.0L1157.8,374.5M1153.0,375.1L1150.0,379.6M1153.0,375.1L1158.3,376.7M1153.9,377.4L1150.9,381.7M1153.9,377.4L1158.8,379.1M1154.7,380.1L1151.8,383.9M1154.7,380.1L1159.3,381.8M1155.6,383.0L1152.7,386.5M1155.6,383.0L1159.7,384.8M1156.4,386.3L1153.6,389.5M1156.4,386.3L1160.2,388.0M1157.2,389.9L1154.6,392.8M1157.2,389.9L1160.7,391.6M1139.7,373.3L1134.4,379.8M1139.7,373.3L1147.4,376.7M1140.1,374.8L1134.8,380.9M1140.1,374.8L1147.4,378.2M1140.4,376.4L1135.1,382.1M1140.4,376.4L1147.4,379.8M1140.7,378.0L1135.5,383.3M1140.7,378.0L1147.3,381.6M1141.0,379.8L1135.8,384.7M1141.0,379.8L1147.1,383.4M1141.2,381.7L1136.1,386.2M1141.2,381.7L1147.0,385.3M1141.4,383.7L1136.3,387.9M1141.4,383.7L1146.8,387.4M1141.5,385.9L1136.6,389.7M1141.5,385.9L1146.5,389.6M1141.5,388.3L1136.7,391.8M1141.5,388.3L1146.2,392.0M1141.5,391.0L1136.9,394.2M1141.5,391.0L1145.8,394.5M1141.3,393.9L1136.9,396.8M1141.3,393.9L1145.4,397.3M1141.1,397.0L1136.9,399.6M1141.1,397.0L1144.8,400.4M1140.8,400.5L1136.8,402.8M1140.8,400.5L1144.2,403.7M1140.4,404.2L1136.6,406.4M1140.4,404.2L1143.5,407.3M1124.3,366.1L1117.9,371.8M1124.3,366.1L1131.5,370.6M1124.4,367.7L1118.2,373.2M1124.4,367.7L1131.4,372.2M1124.6,369.4L1118.4,374.6M1124.6,369.4L1131.3,373.8M1124.7,371.1L1118.7,376.1M1124.7,371.1L1131.1,375.5M1124.8,372.9L1118.8,377.6M1124.8,372.9L1131.0,377.2M1124.8,374.7L1119.0,379.2M1124.8,374.7L1130.8,379.0M1124.8,376.6L1119.2,380.8M1124.8,376.6L1130.5,380.8M1124.8,378.5L1119.3,382.5M1124.8,378.5L1130.3,382.8M1124.8,380.6L1119.3,384.3M1124.8,380.6L1129.9,384.8M1124.7,382.7L1119.4,386.2M1124.7,382.7L1129.6,386.9M1124.6,385.0L1119.3,388.2M1124.6,385.0L1129.2,389.1M1124.4,387.3L1119.3,390.4M1124.4,387.3L1128.7,391.3M1124.1,389.8L1119.2,392.6M1124.1,389.8L1128.2,393.7M1123.8,392.4L1119.0,395.0M1123.8,392.4L1127.7,396.3M1123.4,395.2L1118.8,397.6M1123.4,395.2L1127.0,398.9M1122.9,398.1L1118.5,400.3M1122.9,398.1L1126.3,401.7M1122.4,401.1L1118.1,403.2M1122.4,401.1L1125.6,404.6M1121.7,404.3L1117.6,406.2M1121.7,404.3L1124.7,407.7M1121.0,407.7L1117.1,409.5M1121.0,407.7L1123.8,411.0M1112.0,361.7L1104.1,365.0M1112.0,361.7L1117.3,368.3M1111.6,363.0L1104.1,366.4M1111.6,363.0L1117.0,369.4M1111.3,364.4L1104.0,367.9M1111.3,364.4L1116.6,370.5M1111.0,365.9L1104.0,369.3M1111.0,365.9L1116.3,371.7M1110.7,367.4L1104.0,370.9M1110.7,367.4L1115.9,373.0M1110.4,369.1L1103.9,372.5M1110.4,369.1L1115.6,374.4M1110.2,370.8L1103.9,374.2M1110.2,370.8L1115.2,375.8M1109.9,372.7L1103.9,376.0M1109.9,372.7L1114.8,377.5M1109.6,374.6L1103.9,378.0M1109.6,374.6L1114.4,379.2M1109.4,376.8L1103.8,380.0M1109.4,376.8L1114.0,381.1M1109.1,379.0L1103.8,382.2M1109.1,379.0L1113.6,383.2M1108.9,381.4L1103.8,384.5M1108.9,381.4L1113.2,385.5M1108.6,384.1L1103.7,387.0M1108.6,384.1L1112.8,387.9M1108.3,386.9L1103.7,389.7M1108.3,386.9L1112.4,390.5M1108.1,389.9L1103.6,392.6M1108.1,389.9L1112.0,393.3M1107.8,393.1L1103.6,395.7M1107.8,393.1L1111.5,396.4M1107.5,396.5L1103.5,399.0M1107.5,396.5L1111.1,399.6M1107.2,400.2L1103.4,402.6M1107.2,400.2L1110.6,403.2M1106.9,404.1L1103.3,406.4M1106.9,404.1L1110.1,406.9M1133.7,355.5L1128.5,349.9M1133.7,355.5L1129.7,362.1M1131.9,355.7L1126.9,350.4M1131.9,355.7L1128.3,362.1M1130.1,355.9L1125.2,351.0M1130.1,355.9L1126.8,362.1M1128.3,356.2L1123.4,351.7M1128.3,356.2L1125.3,362.2M1126.3,356.6L1121.5,352.5M1126.3,356.6L1123.7,362.3M1124.2,357.0L1119.6,353.3M1124.2,357.0L1122.0,362.6M1122.0,357.6L1117.5,354.3M1122.0,357.6L1120.1,362.9M1119.7,358.3L1115.3,355.3M1119.7,358.3L1118.0,363.3M1117.2,359.2L1113.0,356.5M1117.2,359.2L1115.8,363.9M1114.5,360.2L1110.5,357.8M1114.5,360.2L1113.3,364.7M1111.6,361.4L1107.8,359.3M1111.6,361.4L1110.6,365.6M1108.5,362.8L1105.0,361.0M1108.5,362.8L1107.7,366.6M1133.8,361.3L1126.3,361.2M1133.8,361.3L1135.8,368.5M1132.9,362.4L1125.7,362.2M1132.9,362.4L1134.7,369.4M1132.0,363.5L1125.1,363.0M1132.0,363.5L1133.4,370.3M1131.0,364.7L1124.4,363.9M1131.0,364.7L1132.1,371.2M1129.9,365.9L1123.6,364.9M1129.9,365.9L1130.6,372.2M1128.6,367.1L1122.6,365.9M1128.6,367.1L1129.1,373.2M1127.1,368.4L1121.5,367.0M1127.1,368.4L1127.3,374.2M1125.4,369.8L1120.1,368.2M1125.4,369.8L1125.4,375.3M1123.5,371.2L1118.5,369.5M1123.5,371.2L1123.3,376.5M1121.3,372.7L1116.6,371.0M1121.3,372.7L1120.9,377.7M1118.8,374.3L1114.4,372.5M1118.8,374.3L1118.3,379.0M1115.9,376.0L1111.9,374.2M1115.9,376.0L1115.4,380.4M1112.7,377.8L1109.0,376.1M1112.7,377.8L1112.1,381.9M1109.1,379.7L1105.7,378.0M1109.1,379.7L1108.5,383.6M1142.8,357.6L1149.2,355.9M1142.8,357.6L1139.3,351.9M1143.7,355.4L1149.9,354.2M1143.7,355.4L1140.8,349.7M1144.7,353.4L1150.7,352.8M1144.7,353.4L1142.4,347.8M1145.8,351.6L1151.5,351.6M1145.8,351.6L1144.2,346.1M1147.0,350.0L1152.4,350.5M1147.0,350.0L1146.1,344.6M1148.4,348.5L1153.3,349.6M1148.4,348.5L1148.1,343.4M1149.9,347.2L1154.4,348.8M1149.9,347.2L1150.1,342.5M1151.6,346.1L1155.6,347.9M1151.6,346.1L1152.2,341.7M1153.4,345.1L1156.9,347.2M1153.4,345.1L1154.4,341.1M1155.4,344.3L1158.5,346.5M1155.4,344.3L1156.7,340.7M1157.6,343.6L1160.3,345.8M1157.6,343.6L1159.0,340.4" stroke-width="1.15"/><rect x="727" y="483.2" width="21.1" height="42.4" fill="#fff" stroke-width="1.6"/><path d="M737.4,476.5L737.8,483" stroke-width="2"/><rect x="720.5" y="525.6" width="33.8" height="4.4" fill="#fff" stroke-width="1.6"/><path d="M729.7,530L723.8,562.5M745.1,530L751.3,562.5" stroke-width="1.6"/><rect x="762.1" y="507.8" width="21.4" height="27" fill="#fff" stroke-width="1.6"/><path d="M774.3,501.3L773.8,507.8" stroke-width="2"/><rect x="759.4" y="534.8" width="27" height="4.3" fill="#fff" stroke-width="1.6"/><path d="M765.1,539.1L760.8,562.5M780.5,539.1L785.1,562.5" stroke-width="1.6"/><path d="M1022.4,473.1L1034.3,526" stroke-width="2.6" stroke-linecap="round"/><path d="M1033.5,471.8L1035.6,526" stroke-width="2.6" stroke-linecap="round"/><path d="M1040.4,472.1L1036.4,526" stroke-width="2.6" stroke-linecap="round"/><path d="M1056.4,472.4L1038.4,526" stroke-width="2.6" stroke-linecap="round"/><path d="M1069.5,475.4L1039.9,526" stroke-width="2.6" stroke-linecap="round"/><rect x="1033.5" y="526" width="18" height="9.5" fill="#fff" stroke-width="1.6"/><rect x="1025" y="535.5" width="35.4" height="27.8" fill="#fff" stroke-width="1.8"/><path d="M1027.5,546.3H1058M1027.5,539H1058M1028,561L1037,547M1057,561L1048,547M1040,561L1043,547M1045,561L1042,547M1027.5,560H1058" stroke-width="1.6"/><rect x="1080.3" y="508.1" width="44.1" height="55.2" fill="#fff" stroke-width="2.4"/><rect x="1086.5" y="514.6" width="31.7" height="42.5" stroke-width="1.6"/><rect x="1090.1" y="517.9" width="24.5" height="35.6" stroke-width="1.6"/><rect x="598.4" y="441.5" width="648.6" height="14.8" fill="#fff"/><rect x="598.4" y="563.2" width="648.6" height="14.8" fill="#fff"/><rect x="474.5" y="404.7" width="5.9" height="198.9" fill="#fff"/><rect x="468.3" y="553" width="18.1" height="23.3" fill="#fff"/><rect x="474.5" y="553" width="5.9" height="50.6" fill="#fff"/><path d="M465.2,451.5H489.7L500.6,553.1Q477.4,559 454,553.1Z" fill="#fff"/><g transform="translate(1845,0) scale(-1,1)"><rect x="474.5" y="404.7" width="5.9" height="198.9" fill="#fff"/><rect x="468.3" y="553" width="18.1" height="23.3" fill="#fff"/><rect x="474.5" y="553" width="5.9" height="50.6" fill="#fff"/><path d="M465.2,451.5H489.7L500.6,553.1Q477.4,559 454,553.1Z" fill="#fff"/></g><path d="M382.5,699.3V1003.8M1462,699.3V1003.8"/><path d="M396,826.2H1448.5M382.5,858.4H1462M412.5,876.3H1432.5M382.5,964.2H1462"/><path d="M382.5,840A14,14 0 0 1 396,826.2M1462,840A14,14 0 0 0 1448.5,826.2"/><path d="M402,944H652.6M1192.4,944H1443" stroke="#ccc" stroke-width="3"/><path d="M402,946H652.6M1192.4,946H1443"/><path d="M655,878V943.5H1190V878" stroke="#ccc" stroke-width="3" fill="none"/><path d="M652.6,876.3V946H1192.4V876.3"/><path d="M413.8,716.0L424.8,727.6M425.6,716.6L413.0,727.0"/><circle cx="419.3" cy="721.8" r="2" fill="#fff"/><path d="M413.8,782.0L424.8,793.6M425.6,782.6L413.0,793.0"/><circle cx="419.3" cy="787.8" r="2" fill="#fff"/><path d="M506.5,716.0L517.5,727.6M518.3,716.6L505.7,727.0"/><circle cx="512.0" cy="721.8" r="2" fill="#fff"/><path d="M506.5,782.0L517.5,793.6M518.3,782.6L505.7,793.0"/><circle cx="512.0" cy="787.8" r="2" fill="#fff"/><path d="M599.2,716.0L610.2,727.6M611.0,716.6L598.4,727.0"/><circle cx="604.7" cy="721.8" r="2" fill="#fff"/><path d="M599.2,782.0L610.2,793.6M611.0,782.6L598.4,793.0"/><circle cx="604.7" cy="787.8" r="2" fill="#fff"/><path d="M691.9,716.0L702.9,727.6M703.7,716.6L691.1,727.0"/><circle cx="697.4" cy="721.8" r="2" fill="#fff"/><path d="M691.9,782.0L702.9,793.6M703.7,782.6L691.1,793.0"/><circle cx="697.4" cy="787.8" r="2" fill="#fff"/><path d="M784.6,716.0L795.6,727.6M796.4,716.6L783.8,727.0"/><circle cx="790.1" cy="721.8" r="2" fill="#fff"/><path d="M784.6,782.0L795.6,793.6M796.4,782.6L783.8,793.0"/><circle cx="790.1" cy="787.8" r="2" fill="#fff"/><path d="M877.3,716.0L888.3,727.6M889.1,716.6L876.5,727.0"/><circle cx="882.8" cy="721.8" r="2" fill="#fff"/><path d="M877.3,782.0L888.3,793.6M889.1,782.6L876.5,793.0"/><circle cx="882.8" cy="787.8" r="2" fill="#fff"/><path d="M970.0,716.0L981.0,727.6M981.8,716.6L969.2,727.0"/><circle cx="975.5" cy="721.8" r="2" fill="#fff"/><path d="M970.0,782.0L981.0,793.6M981.8,782.6L969.2,793.0"/><circle cx="975.5" cy="787.8" r="2" fill="#fff"/><path d="M1062.7,716.0L1073.7,727.6M1074.5,716.6L1061.9,727.0"/><circle cx="1068.2" cy="721.8" r="2" fill="#fff"/><path d="M1062.7,782.0L1073.7,793.6M1074.5,782.6L1061.9,793.0"/><circle cx="1068.2" cy="787.8" r="2" fill="#fff"/><path d="M1155.4,716.0L1166.4,727.6M1167.2,716.6L1154.6,727.0"/><circle cx="1160.9" cy="721.8" r="2" fill="#fff"/><path d="M1155.4,782.0L1166.4,793.6M1167.2,782.6L1154.6,793.0"/><circle cx="1160.9" cy="787.8" r="2" fill="#fff"/><path d="M1248.1,716.0L1259.1,727.6M1259.9,716.6L1247.3,727.0"/><circle cx="1253.6" cy="721.8" r="2" fill="#fff"/><path d="M1248.1,782.0L1259.1,793.6M1259.9,782.6L1247.3,793.0"/><circle cx="1253.6" cy="787.8" r="2" fill="#fff"/><path d="M1340.8,716.0L1351.8,727.6M1352.6,716.6L1340.0,727.0"/><circle cx="1346.3" cy="721.8" r="2" fill="#fff"/><path d="M1340.8,782.0L1351.8,793.6M1352.6,782.6L1340.0,793.0"/><circle cx="1346.3" cy="787.8" r="2" fill="#fff"/><path d="M1433.5,716.0L1444.5,727.6M1445.3,716.6L1432.7,727.0"/><circle cx="1439.0" cy="721.8" r="2" fill="#fff"/><path d="M1433.5,782.0L1444.5,793.6M1445.3,782.6L1432.7,793.0"/><circle cx="1439.0" cy="787.8" r="2" fill="#fff"/><path d="M458.0,750.0L469.0,761.6M469.8,750.6L457.2,761.0"/><circle cx="463.5" cy="755.8" r="2" fill="#fff"/><path d="M1376.0,750.0L1387.0,761.6M1387.8,750.6L1375.2,761.0"/><circle cx="1381.5" cy="755.8" r="2" fill="#fff"/><path d="M387.0,685.4A40.50,42.51 0 0 1 461.1,685.4A8.30,8.71 0 0 0 477.7,685.4A40.50,42.51 0 0 1 551.7,685.4A8.30,8.71 0 0 0 568.3,685.4A40.50,42.51 0 0 1 642.4,685.4A8.30,8.71 0 0 0 659.0,685.4A40.50,42.51 0 0 1 733.1,685.4A8.30,8.71 0 0 0 749.7,685.4A40.50,42.51 0 0 1 823.7,685.4A8.30,8.71 0 0 0 840.3,685.4A40.50,42.51 0 0 1 914.4,685.4A8.30,8.71 0 0 0 931.0,685.4A40.50,42.51 0 0 1 1005.1,685.4A8.30,8.71 0 0 0 1021.7,685.4A40.50,42.51 0 0 1 1095.7,685.4A8.30,8.71 0 0 0 1112.3,685.4A40.50,42.51 0 0 1 1186.4,685.4A8.30,8.71 0 0 0 1203.0,685.4A40.50,42.51 0 0 1 1277.1,685.4A8.30,8.71 0 0 0 1293.7,685.4A40.50,42.51 0 0 1 1367.7,685.4A8.30,8.71 0 0 0 1384.3,685.4A40.50,42.51 0 0 1 1460.5,691.7" stroke-width="2"/><circle cx="920.6" cy="683" r="6.5" fill="#fff"/><circle cx="875.3" cy="676.7" r="15.85" fill="#fff"/><circle cx="903" cy="675.1" r="13.4" fill="#fff"/><circle cx="940.7" cy="678.5" r="16.05" fill="#fff"/><circle cx="969.6" cy="680.5" r="13.95" fill="#fff"/><circle cx="895.5" cy="686" r="12.25" fill="#fff"/><path d="M884.3,721.7V731.3H960.5V721.7" fill="#fff"/><path d="M862,688.9H982.5C984,688.9 984.5,690 984.3,691.5C983,706 972,717 960.9,721.7H883.2C872,717 861,706 860.2,691.5C860,690 860.5,688.9 862,688.9Z" fill="#fff"/><path d="M662.1,760.4L584.8,1003.8H615.1L692,760.4Z" fill="#fff"/><path d="M670.9,760.4L594.3,1003.8"/><path d="M1182.9,760.4L1260.2,1003.8H1229.9L1153,760.4Z" fill="#fff"/><path d="M1174.1,760.4L1250.7,1003.8"/><rect x="526.3" y="731.7" width="792.2" height="28.7" fill="#fff"/><path d="M399.8,849.7C401,880 402,900 400,930C398,960 390,985 383,1003.8H392.7C400,985 410,950 411.5,906C412,880 412,860 412.1,849.7Z" fill="#fff"/><path d="M521.7,849.7C521,880 521,900 524,930C528,960 535,985 541.2,1003.8H551.5C546,985 538,950 533,910C532,880 534,860 534.7,849.7Z" fill="#fff"/><path d="M410.2,908.7C410,880 430,850.4 466,850.4C502,850.4 523,880 523,902.9L515.2,905C514,880 500,859.2 466,859.2C432,859.2 418.6,885 418.6,908Z" fill="#fff"/><path d="M400.5,849.7C397,847 396,845 396.6,842.6C396,800 395,740 388.7,714.8C384,695 374,682 362.5,673C360,671 360,667 362,665C365,663 368,663 371,664C385,671 393,680 398,690C406,705 411,725 412.5,750C413,780 413,820 412.8,849.7Z" fill="#fff"/><path d="M400.5,849.7H536C538,849.7 539.2,848.5 539.2,846.5V839.5C539.2,837.5 538,836.4 536,836.4H414" fill="#fff"/><g transform="translate(1845,0) scale(-1,1)"><path d="M399.8,849.7C401,880 402,900 400,930C398,960 390,985 383,1003.8H392.7C400,985 410,950 411.5,906C412,880 412,860 412.1,849.7Z" fill="#fff"/><path d="M521.7,849.7C521,880 521,900 524,930C528,960 535,985 541.2,1003.8H551.5C546,985 538,950 533,910C532,880 534,860 534.7,849.7Z" fill="#fff"/><path d="M410.2,908.7C410,880 430,850.4 466,850.4C502,850.4 523,880 523,902.9L515.2,905C514,880 500,859.2 466,859.2C432,859.2 418.6,885 418.6,908Z" fill="#fff"/><path d="M400.5,849.7C397,847 396,845 396.6,842.6C396,800 395,740 388.7,714.8C384,695 374,682 362.5,673C360,671 360,667 362,665C365,663 368,663 371,664C385,671 393,680 398,690C406,705 411,725 412.5,750C413,780 413,820 412.8,849.7Z" fill="#fff"/><path d="M400.5,849.7H536C538,849.7 539.2,848.5 539.2,846.5V839.5C539.2,837.5 538,836.4 536,836.4H414" fill="#fff"/></g><path d="M126.50000000000001,969 L128.10000000000002,1000 H138.5 L140.10000000000002,969Z" fill="#fff"/><path d="M129.8,1000 V1003.8 M136.8,1000 V1003.8"/><circle cx="133.3" cy="952.3" r="18.3" fill="#fff"/><path d="M329.59999999999997,969 L331.2,1000 H341.59999999999997 L343.2,969Z" fill="#fff"/><path d="M332.9,1000 V1003.8 M339.9,1000 V1003.8"/><circle cx="336.4" cy="952.3" r="18.3" fill="#fff"/><path d="M107.2,941.4V470.7A127.7,122.6 0 0 1 362.6,470.7V941.4Z" fill="#fff"/><path d="M128.2,921.9V471.5A106.65,103.8 0 0 1 341.5,471.5V921.9Z"/><path d="M128.2,475.4H341.5M128.2,486.3H341.5M128.2,554.1H341.5M128.2,565.3H341.5M128.2,714.2H341.5M128.2,724.8H341.5M128.2,785.6H341.5M128.2,793.8H341.5M128.2,854.2H341.5M128.2,861.8H341.5"/><circle cx="235" cy="755.8" r="4.2"/><circle cx="235" cy="824.4" r="4.2"/><circle cx="235" cy="892.7" r="4.2"/><path d="M177.9,429.6C175,447 182,464 203.9,475 H242.4C263,464 269,447 265.8,429.6L255.5,443" fill="#fff"/><path d="M177.9,429.6L188.5,443M188.8,450.6C186,438 188,432.5 192,432.2C199,432 204,445 207.2,445.6C211,445 214,430.5 222.3,430.5C230,430.5 233,445 236.5,445.6C240,445 246,431 252,431.3C256,432 257,440 255.8,450.6"/><path d="M194,456C198,465 204,472 209,475M210,452C210,462 212,470 215,475M232,452C232,462 230,470 228,475M250,456C246,465 240,472 235,475" stroke="#cfcfcf"/><rect x="143.3" y="549.4" width="98.7" height="3.8" rx="1.9"/><rect x="157.8" y="526.8" width="31" height="21" rx="2"/><rect x="196.8" y="526.8" width="30.9" height="21" rx="2"/><path d="M188.8,532C195,532 195,543 188.8,545M196.8,532C191,533 191,543 196.8,545"/><path d="M254.1,502.5H291.5L273.8,522.6V546C273.8,551 278.8,553 283.8,553.8H261.8C266.8,553 271.8,551 271.8,546V522.6Z"/><path d="M299,502.5H336.4L318.7,522.6V546C318.7,551 323.7,553 328.7,553.8H306.7C311.7,553 316.7,551 316.7,546V522.6Z"/><path d="M151.1,641.9V634C151.1,632.5 152,631.8 154,631.8H166C168,631.8 168.7,632.5 168.7,634V641.9"/><path d="M151.1,641.9L141.9,652.8H178.8L168.7,641.9Z"/><rect x="141.5" y="652.8" width="37.6" height="3.3"/><path d="M142,661.1H178.6M142.5,663.6H178.3" /><path d="M142,656.1L146.1,708.9H173.7L178.6,656.1"/><rect x="146.1" y="708.9" width="27.6" height="5"/><rect x="167.9" y="663.6" width="3.3" height="45.3" fill="#6a6a6a" stroke="none"/><rect x="185.5" y="708" width="145.7" height="5.9"/><rect x="191.8" y="683.2" width="7.1" height="24.8"/><rect x="317.4" y="683.2" width="7.1" height="24.8"/><path d="M203.5,708V672H225C228,672 229,674 228.7,676L225,681V708Z"/><path d="M204,686.2H225"/><path d="M199.7,651.1L213.9,686.2M196,652.5L203,649.5" stroke-width="2"/><rect x="273.4" y="603.3" width="26.8" height="9.3" rx="2"/><rect x="280.1" y="612.6" width="13.4" height="8.3"/><rect x="274.2" y="620.1" width="25.1" height="3.3" rx="1.6"/><rect x="279.3" y="623.4" width="15" height="9.3"/><path d="M279.3,632.7C274,635 270,639 270,642.7V708H303.5V642.7C303.5,639 299,635 294.3,632.7"/><path d="M270,643.5Q286.7,640 303.5,643.5"/><rect x="270.7" y="667.8" width="32.1" height="40" fill="#777" stroke="none"/><path d="M272.5,669L274.7,673L272.5,677L270.3,673ZM279.5,669L281.7,673L279.5,677L277.3,673ZM286.5,669L288.7,673L286.5,677L284.3,673ZM293.5,669L295.7,673L293.5,677L291.3,673ZM300.5,669L302.7,673L300.5,677L298.3,673ZM276.0,679L278.2,683L276.0,687L273.8,683ZM283.0,679L285.2,683L283.0,687L280.8,683ZM290.0,679L292.2,683L290.0,687L287.8,683ZM297.0,679L299.2,683L297.0,687L294.8,683ZM272.5,689L274.7,693L272.5,697L270.3,693ZM279.5,689L281.7,693L279.5,697L277.3,693ZM286.5,689L288.7,693L286.5,697L284.3,693ZM293.5,689L295.7,693L293.5,697L291.3,693ZM300.5,689L302.7,693L300.5,697L298.3,693ZM276.0,699L278.2,703L276.0,707L273.8,703ZM283.0,699L285.2,703L283.0,707L280.8,703ZM290.0,699L292.2,703L290.0,707L287.8,703ZM297.0,699L299.2,703L297.0,707L294.8,703Z" fill="#fff" stroke="none"/></g></g><defs><clipPath id="ph"><rect x="0" y="0" width="1362" height="1851"/></clipPath></defs><g transform="translate(1746.3,385.3) scale(0.32966)" clip-path="url(#ph)"><defs><linearGradient id="rw" x1="0" y1="0" x2="0" y2="1"><stop offset="0" stop-color="#c9c8c1"/><stop offset="0.55" stop-color="#d8d9d5"/><stop offset="1" stop-color="#e0e2df"/></linearGradient><linearGradient id="lw" x1="0" y1="0" x2="0" y2="1"><stop offset="0" stop-color="#c0beb6"/><stop offset="1" stop-color="#cbcac4"/></linearGradient></defs><rect x="0" y="0" width="1362" height="1851" fill="#d5d6d2"/><path d="M360,200L1362,0V950L360,880Z" fill="url(#rw)"/><path d="M0,120L360,200V880H0Z" fill="url(#lw)"/><path d="M0,0 650,0 345,160 0,85Z" fill="#d9d7cf" /><path d="M0,85 345,160 360,205 0,135Z" fill="#e6e4de" /><path d="M345,160 650,0 700,0 360,205Z" fill="#f1f0ec" /><path d="M0,160 120,175 130,390 0,380Z" fill="#646d84" /><rect x="0" y="380" width="140" height="490" fill="#eeeeec"/><rect x="0" y="395" width="58" height="75" fill="#4e6a40"/><rect x="0" y="500" width="72" height="170" fill="#3f5e36"/><rect x="0" y="685" width="78" height="90" fill="#4a6a3e"/><rect x="0" y="775" width="85" height="65" fill="#b9c27e"/><path d="M255,890V590C255,520 300,490 372,490C440,490 490,520 490,590V905Z" fill="#202327"/><path d="M268,885V590C268,540 285,512 335,508L345,510V885Z" fill="#c39b6c"/><rect x="272" y="615" width="70" height="8" fill="#d8b888"/><rect x="272" y="715" width="70" height="8" fill="#d8b888"/><rect x="278" y="815" width="68" height="75" fill="#d7b98d"/><path d="M258,560 330,545 330,640 270,660Z" fill="#54744a" /><rect x="512" y="490" width="62" height="92" fill="#e6e6e3"/><rect x="540" y="458" width="70" height="14" fill="#222"/><circle cx="600" cy="468" r="12" fill="#222"/><rect x="1282" y="340" width="80" height="180" fill="#e4e5e2"/><path d="M697,262 828,230 830,445 720,460Z" fill="#141414" /><path d="M707,272 818,245 820,435 725,450Z" fill="#f2f2f0" /><path d="M722,300 790,288 792,420 735,430Z" fill="#2f3f30" /><circle cx="752" cy="335" r="17" fill="#5a78b5"/><path d="M765,290 960,235 962,420 770,455Z" fill="#141414" /><path d="M775,300 950,248 952,410 780,445Z" fill="#f2f2f0" /><path d="M800,305 890,292 892,405 805,415Z" fill="#809d4c" /><rect x="885" y="275" width="14" height="135" fill="#a8c8d8"/><rect x="916" y="268" width="14" height="130" fill="#e0805a"/><rect x="974" y="258" width="14" height="125" fill="#b8d8e0"/><path d="M630,430 640,390 668,385 672,478 628,478Z" fill="#b9b2a8" /><rect x="672" y="408" width="30" height="62" fill="#3d66a3"/><ellipse cx="998" cy="388" rx="22" ry="28" fill="#cfe0dd"/><ellipse cx="1050" cy="388" rx="16" ry="24" fill="#9ec3e0"/><path d="M1066,325H1145L1140,400H1068Z" fill="#a08d4e"/><path d="M1093,264L1116,222M1093,264L1059,230M1091,242L1115,203M1091,242L1061,208M1090,220L1114,185M1090,220L1063,187M1090,199L1115,167M1090,199L1066,167M1091,178L1116,149M1091,178L1070,146M1094,158L1118,131M1094,158L1076,127M1097,137L1121,114M1097,137L1082,107M1101,117L1125,96M1101,117L1089,89M1107,97L1129,79M1107,97L1096,70M1113,77L1135,62M1113,77L1105,52M1121,57L1141,45M1121,57L1115,34M1130,38L1148,28M1130,38L1125,17M1139,19L1156,10M1139,19L1136,0M1150,0L1165,-7M1150,0L1148,-16M1105,330Q1060,150 1150,0M1075,292L1073,244M1075,292L1029,280M1066,281L1064,235M1066,281L1022,270M1057,270L1054,227M1057,270L1015,260M1048,260L1046,220M1048,260L1009,251M1040,251L1037,213M1040,251L1003,243M1032,242L1029,207M1032,242L997,236M1025,235L1022,202M1025,235L992,229M1018,228L1014,197M1018,228L988,223M1012,221L1007,193M1012,221L983,218M1006,216L1001,190M1006,216L980,213M1000,211L995,187M1000,211L976,209M995,206L989,186M995,206L973,206M990,203L984,185M990,203L971,203M985,200L979,185M985,200L969,201M1105,330Q1020,220 985,200M1068,311L1046,269M1068,311L1022,321M1058,307L1034,268M1058,307L1014,318M1047,303L1023,268M1047,303L1006,316M1038,300L1013,268M1038,300L1000,315M1028,299L1003,270M1028,299L994,315M1020,298L994,273M1020,298L989,315M1012,297L986,277M1012,297L985,317M1005,298L979,282M1005,298L982,319M998,299L972,288M998,299L980,321M992,302L967,295M992,302L979,324M987,305L964,303M987,305L978,327M982,309L961,311M982,309L978,330M978,314L960,319M978,314L978,333M975,320L960,326M975,320L977,336M1105,330Q1000,270 975,320M1133,277L1177,258M1133,277L1127,230M1143,261L1185,244M1143,261L1138,216M1152,246L1192,231M1152,246L1149,203M1162,232L1200,218M1162,232L1160,191M1172,218L1208,206M1172,218L1170,180M1181,205L1216,195M1181,205L1181,169M1191,193L1223,185M1191,193L1192,160M1201,182L1231,175M1201,182L1203,151M1210,171L1239,166M1210,171L1213,143M1220,161L1246,158M1220,161L1224,135M1230,152L1254,150M1230,152L1235,129M1240,144L1261,143M1240,144L1245,123M1250,137L1269,137M1250,137L1255,119M1260,130L1276,131M1260,130L1266,114M1105,330Q1180,180 1260,130M1139,305L1187,307M1139,305L1154,259M1149,298L1195,302M1149,298L1166,256M1159,293L1202,299M1159,293L1178,254M1169,288L1209,297M1169,288L1189,253M1179,285L1215,296M1179,285L1199,253M1188,282L1221,296M1188,282L1210,254M1196,281L1226,297M1196,281L1219,257M1204,281L1230,298M1204,281L1228,261M1212,281L1233,300M1212,281L1236,266M1219,283L1236,303M1219,283L1243,272M1226,286L1239,306M1226,286L1249,279M1233,290L1242,309M1233,290L1254,287M1239,294L1244,312M1239,294L1258,294M1245,300L1247,316M1245,300L1261,302M1105,330Q1200,250 1245,300M1097,257L1120,215M1097,257L1064,222M1093,234L1114,194M1093,234L1061,203M1089,213L1108,175M1089,213L1057,185M1085,194L1101,156M1085,194L1053,168M1079,175L1093,139M1079,175L1049,152M1074,158L1085,124M1074,158L1045,137M1068,141L1077,109M1068,141L1039,123M1061,126L1068,96M1061,126L1034,111M1054,112L1058,84M1054,112L1028,100M1046,99L1049,73M1046,99L1022,90M1038,88L1038,64M1038,88L1015,81M1029,77L1028,56M1029,77L1008,72M1020,68L1017,49M1020,68L1001,65M1010,60L1006,44M1010,60L994,59M1105,330Q1090,120 1010,60M1120,254L1157,224M1120,254L1101,211M1127,231L1162,202M1127,231L1109,189M1133,208L1168,182M1133,208L1118,167M1140,185L1173,162M1140,185L1127,147M1148,163L1180,142M1148,163L1137,127M1156,142L1187,124M1156,142L1147,108M1165,122L1194,106M1165,122L1157,90M1174,103L1201,88M1174,103L1168,72M1184,84L1210,71M1184,84L1179,56M1194,66L1218,55M1194,66L1191,40M1205,48L1227,39M1205,48L1203,25M1216,31L1236,24M1216,31L1215,10M1228,15L1246,10M1228,15L1228,-4M1240,0L1256,-4M1240,0L1240,-16M1105,330Q1140,120 1240,0M1095,283L1115,239M1095,283L1059,252M1092,268L1110,226M1092,268L1057,238M1088,253L1105,213M1088,253L1055,225M1084,238L1100,201M1084,238L1052,213M1080,224L1094,188M1080,224L1050,200M1076,210L1089,177M1076,210L1048,188M1072,196L1084,165M1072,196L1045,177M1068,183L1078,154M1068,183L1043,165M1064,170L1072,143M1064,170L1040,154M1059,158L1067,133M1059,158L1037,143M1054,145L1061,122M1054,145L1035,132M1050,133L1055,113M1050,133L1032,122M1045,121L1050,103M1045,121L1029,112M1040,110L1044,94M1040,110L1026,102M1105,330Q1080,200 1040,110" stroke="#5b7a3e" stroke-width="5" fill="none" stroke-linecap="round"/><path d="M598,482 1230,398 1232,442 600,512Z" fill="#f6f6f4" /><path d="M600,500 1232,430 1232,442 600,512Z" fill="#e1e1de" /><path d="M640,530 700,500 770,520 760,610 630,610Z" fill="#58784c" /><rect x="728" y="555" width="62" height="50" fill="#dde7e2"/><rect x="730" y="585" width="60" height="20" fill="#3f8a8a"/><rect x="800" y="525" width="30" height="80" fill="#b0a060"/><ellipse cx="855" cy="585" rx="32" ry="20" fill="#d8cdbd"/><rect x="830" y="525" width="60" height="45" fill="#5e7e4c"/><path d="M880,535 955,530 955,600 880,602Z" fill="#f0ece8" /><path d="M955,525 1005,495 1000,600 950,600Z" fill="#caa088" /><path d="M962,520 998,505 993,590 958,590Z" fill="#2c4a7a" /><rect x="1028" y="522" width="45" height="72" fill="#2f5a98"/><rect x="1075" y="510" width="45" height="85" fill="#254f8e"/><path d="M598,615 1215,597 1217,632 600,640Z" fill="#f6f6f4" /><path d="M522,812 1362,935 1362,1520 1240,1570 1060,1480 760,1262 625,1222 590,1100 522,1000Z" fill="#336246" /><path d="M522,812 1362,935 1362,1040 1150,1090 700,1060 600,960Z" fill="#2d5840" /><path d="M1060,1480 1240,1570 1362,1520 1362,1660 1240,1690 1060,1560Z" fill="#7a5535" /><path d="M1190,1580L1230,1575L1222,1690L1200,1690Z" fill="#3a2a20"/><path d="M630,1230L655,1230L648,1310L633,1310Z" fill="#2a2520"/><path d="M458,835 585,840 695,870 680,995 560,975 470,900Z" fill="#8890a5" /><path d="M480,845 635,850 600,890 500,880Z" fill="#ecebe6" /><path d="M985,1100 1090,930 1165,995 1150,1120 1020,1245Z" fill="#a9aeb5" /><path d="M1140,1110 1220,965 1362,1050 1362,1220 1240,1300 1180,1260Z" fill="#e9e7e1" /><path d="M0,1240 420,1290 760,1262 1060,1480 1060,1560 1362,1700 1362,1851 0,1851Z" fill="#dcd9d2" /><path d="M0,985 60,1030 160,1110 300,1200 420,1290 420,1424 115,1424 100,1285 0,1272Z" fill="#1a1b1e" /><path d="M0,912 240,888 460,918 985,1105 350,1282 0,980Z" fill="#bba789" /><path d="M350,1282 985,1105 985,1112 352,1290Z" fill="#5a4a3a" /><ellipse cx="428" cy="1063" rx="133" ry="32" fill="#a68d66"/><rect x="302" y="918" width="106" height="120" fill="#d3d4d0" opacity="0.8"/><rect x="340" y="990" width="60" height="80" fill="#d6d6d2" opacity="0.8"/><rect x="428" y="995" width="58" height="78" fill="#d6d6d2" opacity="0.8"/><path d="M440,955H548L540,1045H450Z" fill="#c9c6bf"/><path d="M415,885 480,905 520,870 545,900 500,960 440,960Z" fill="#6e8c5a" /><path d="M425,1265 470,1258 432,1851 370,1851Z" fill="#1b1c1e" /><path d="M448,1290L505,1650L485,1655L440,1300Z" fill="#1b1c1e"/><path d="M690,1205 735,1210 800,1370 765,1375Z" fill="#1b1c1e" /><path d="M30,1062C80,1040 150,1090 180,1140" stroke="#1c1d20" stroke-width="26" fill="none" stroke-linecap="round"/><path d="M0,1030 48,1040 40,1080 0,1075Z" fill="#1c1d20" /><path d="M0,1080 50,1100 60,1300 40,1290 0,1270Z" fill="#1d1e21" /><path d="M145,1252L172,1262L168,1280L142,1272ZM185,1262L205,1268L203,1282L182,1276ZM228,1266L246,1270L244,1284L226,1280ZM265,1260L300,1250L298,1264L262,1274Z" fill="#d8d8d4"/><path d="M165,1424L110,1604" stroke="#18191b" stroke-width="16" stroke-linecap="round"/><path d="M230,1424L200,1774" stroke="#18191b" stroke-width="20" stroke-linecap="round"/><path d="M300,1414L330,1479" stroke="#18191b" stroke-width="13" stroke-linecap="round"/><path d="M360,1399L380,1504" stroke="#18191b" stroke-width="13" stroke-linecap="round"/><path d="M50,1274L10,1394" stroke="#18191b" stroke-width="12" stroke-linecap="round"/><path d="M70,1274L25,1439" stroke="#18191b" stroke-width="13" stroke-linecap="round"/><path d="M100,1274L65,1549" stroke="#18191b" stroke-width="14" stroke-linecap="round"/><path d="M975,1290C1040,1260 1100,1200 1120,1130L1145,1150C1130,1230 1060,1300 990,1310Z" fill="#1c1d20"/><path d="M640,1480 900,1355 1040,1405 1055,1560 930,1625 665,1520Z" fill="#1b1c1f" /><path d="M1000,1300L960,1560" stroke="#18191b" stroke-width="8" stroke-linecap="round"/><path d="M1040,1280L1010,1540" stroke="#18191b" stroke-width="8" stroke-linecap="round"/><path d="M1080,1250L1050,1500" stroke="#18191b" stroke-width="8" stroke-linecap="round"/><path d="M705,1540L615,1851" stroke="#18191b" stroke-width="26" stroke-linecap="round"/><path d="M925,1610L945,1851" stroke="#18191b" stroke-width="24" stroke-linecap="round"/><path d="M1000,1580L1055,1780" stroke="#18191b" stroke-width="18" stroke-linecap="round"/><path d="M780,1560L772,1650" stroke="#18191b" stroke-width="14" stroke-linecap="round"/></g><circle cx="2195" cy="1034" r="88.9" fill="#7f7f7f"/><circle cx="2195" cy="1034" r="82.9" fill="none" stroke="#eeeeee" stroke-width="2.3" stroke-dasharray="0 5.2" stroke-linecap="round"/><text x="2191.8" y="1021.8" font-family="Liberation Sans" font-size="37" fill="#fff" stroke="#7f7f7f" stroke-width="0.9" text-anchor="middle" textLength="124.8" lengthAdjust="spacingAndGlyphs">SWITCH</text><text x="2192.3" y="1067.2" font-family="Liberation Sans" font-size="37" fill="#fff" stroke="#7f7f7f" stroke-width="0.9" text-anchor="middle" textLength="103.1" lengthAdjust="spacingAndGlyphs">SNAPS</text><text x="112.4" y="182.3" textLength="148.7" lengthAdjust="spacingAndGlyphs" font-family="Liberation Sans" font-size="42" fill="#000">Option</text><text x="272.3" y="182.3" textLength="27.3" lengthAdjust="spacingAndGlyphs" font-family="Liberation Sans" font-size="42" fill="#000">1</text><text x="100.4" y="1249.1" textLength="148.7" lengthAdjust="spacingAndGlyphs" font-family="Liberation Sans" font-size="42" fill="#000">Option</text><text x="260.3" y="1249.1" textLength="33.0" lengthAdjust="spacingAndGlyphs" font-family="Liberation Sans" font-size="42" fill="#000">2</text><text x="1680.2" y="181.9" textLength="166.4" lengthAdjust="spacingAndGlyphs" font-family="Liberation Sans" font-size="46" fill="#000">Shelves</text><text x="1860.7" y="181.9" textLength="85.5" lengthAdjust="spacingAndGlyphs" font-family="Liberation Sans" font-size="46" fill="#000">and</text><text x="1960.3" y="181.9" textLength="93.1" lengthAdjust="spacingAndGlyphs" font-family="Liberation Sans" font-size="46" fill="#000">wall</text><text x="2067.5" y="181.9" textLength="128.3" lengthAdjust="spacingAndGlyphs" font-family="Liberation Sans" font-size="46" fill="#000">lights</text><text x="1682.6" y="242.3" textLength="112.7" lengthAdjust="spacingAndGlyphs" font-family="Liberation Sans" font-size="46" fill="#000">above</text><text x="1807.9" y="242.3" textLength="64.4" lengthAdjust="spacingAndGlyphs" font-family="Liberation Sans" font-size="46" fill="#000">the</text><text x="1886.4" y="242.3" textLength="216.8" lengthAdjust="spacingAndGlyphs" font-family="Liberation Sans" font-size="46" fill="#000">banquette</text><text x="2117.3" y="242.3" textLength="80.3" lengthAdjust="spacingAndGlyphs" font-family="Liberation Sans" font-size="46" fill="#000">add</text><text x="1682.6" y="302.6" textLength="58.4" lengthAdjust="spacingAndGlyphs" font-family="Liberation Sans" font-size="46" fill="#000">an</text><text x="1753.5" y="302.6" textLength="103.7" lengthAdjust="spacingAndGlyphs" font-family="Liberation Sans" font-size="46" fill="#000">extra</text><text x="1874.3" y="302.6" textLength="115.7" lengthAdjust="spacingAndGlyphs" font-family="Liberation Sans" font-size="46" fill="#000">layer</text><text x="1999.5" y="302.6" textLength="40.3" lengthAdjust="spacingAndGlyphs" font-family="Liberation Sans" font-size="46" fill="#000">of</text><text x="2053.9" y="302.6" textLength="176.9" lengthAdjust="spacingAndGlyphs" font-family="Liberation Sans" font-size="46" fill="#000">interest,</text><text x="1678.3" y="1374.4" textLength="38.8" lengthAdjust="spacingAndGlyphs" font-family="Liberation Sans" font-size="46" fill="#000">A</text><text x="1727.8" y="1374.4" textLength="86.6" lengthAdjust="spacingAndGlyphs" font-family="Liberation Sans" font-size="46" fill="#000">fun</text><text x="1826.8" y="1374.4" textLength="109.7" lengthAdjust="spacingAndGlyphs" font-family="Liberation Sans" font-size="46" fill="#000">twist</text><text x="1948.9" y="1374.4" textLength="56.9" lengthAdjust="spacingAndGlyphs" font-family="Liberation Sans" font-size="46" fill="#000">on</text><text x="2014.9" y="1374.4" textLength="65.2" lengthAdjust="spacingAndGlyphs" font-family="Liberation Sans" font-size="46" fill="#000">the</text><text x="2092.4" y="1374.4" textLength="104.8" lengthAdjust="spacingAndGlyphs" font-family="Liberation Sans" font-size="46" fill="#000">more</text><text x="1679.9" y="1435.5" textLength="238.5" lengthAdjust="spacingAndGlyphs" font-family="Liberation Sans" font-size="46" fill="#000">traditional</text><text x="1934.0" y="1435.5" textLength="215.4" lengthAdjust="spacingAndGlyphs" font-family="Liberation Sans" font-size="46" fill="#000">banquette</text><text x="2161.7" y="1435.5" textLength="94.9" lengthAdjust="spacingAndGlyphs" font-family="Liberation Sans" font-size="46" fill="#000">with</text><text x="1681.6" y="1494.9" textLength="22.3" lengthAdjust="spacingAndGlyphs" font-family="Liberation Sans" font-size="46" fill="#000">a</text><text x="1717.9" y="1494.9" textLength="193.9" lengthAdjust="spacingAndGlyphs" font-family="Liberation Sans" font-size="46" fill="#000">scalloped</text><text x="1925.8" y="1494.9" textLength="73.4" lengthAdjust="spacingAndGlyphs" font-family="Liberation Sans" font-size="46" fill="#000">top,</text><text x="2016.5" y="1494.9" textLength="131.2" lengthAdjust="spacingAndGlyphs" font-family="Liberation Sans" font-size="46" fill="#000">again</text><text x="2160.1" y="1494.9" textLength="93.2" lengthAdjust="spacingAndGlyphs" font-family="Liberation Sans" font-size="46" fill="#000">with</text><text x="1681.6" y="1555" textLength="86.6" lengthAdjust="spacingAndGlyphs" font-family="Liberation Sans" font-size="46" fill="#000">deep</text><text x="1783.9" y="1555" textLength="221.9" lengthAdjust="spacingAndGlyphs" font-family="Liberation Sans" font-size="46" fill="#000">buttoning</text><path d="M1460.4,383.8C1460.4,381.8 1475.4,361.8 1490.5,350.9C1505.6,340.0 1533.3,325.3 1550.9,318.5C1568.5,311.7 1578.4,310.6 1596.0,310.2C1613.6,309.8 1642.8,313.8 1656.5,316.2C1670.2,318.6 1678.4,323.5 1678.4,324.5C1678.4,325.5 1670.2,322.9 1656.5,322.3C1642.8,321.7 1613.6,319.4 1596.0,320.7C1578.4,321.9 1568.5,322.8 1550.9,329.8C1533.3,336.9 1505.6,354.0 1490.5,363.0C1475.4,372.0 1460.4,385.8 1460.4,383.8Z" fill="#222228"/><path d="M1428.7,296.6C1430.2,301.6 1434.5,328.1 1435.5,340.4C1436.5,352.7 1435.7,360.9 1434.7,370.5C1433.7,380.1 1431.7,389.8 1429.4,397.7C1427.1,405.6 1422.7,414.3 1421.1,418.1C1419.5,421.9 1419.0,425.7 1419.6,420.3C1420.2,414.9 1423.8,396.4 1424.9,385.6C1426.0,374.8 1426.2,368.0 1426.4,355.4C1426.7,342.8 1426.0,320.0 1426.4,310.2C1426.8,300.4 1427.2,291.6 1428.7,296.6Z" fill="#222228"/><path d="M1419.6,420.3C1420.1,419.1 1414.7,417.4 1424.0,414.5C1433.3,411.6 1458.2,406.4 1475.4,402.8C1492.7,399.2 1518.8,394.5 1527.5,393.2C1536.2,391.9 1536.2,392.5 1527.5,395.2C1518.8,397.9 1493.2,404.8 1475.4,409.2C1457.7,413.6 1430.3,419.6 1421.0,421.5C1411.7,423.4 1419.1,421.5 1419.6,420.3Z" fill="#222228"/><path d="M1588.9,1714.3C1590.9,1712.9 1601.6,1712.0 1612.2,1708.3C1622.8,1704.6 1640.3,1699.0 1652.4,1692.2C1664.5,1685.4 1675.2,1676.3 1684.6,1667.3C1694.0,1658.3 1702.8,1646.5 1708.8,1638.3C1714.8,1630.1 1717.3,1624.7 1720.8,1618.2C1724.3,1611.7 1729.0,1599.3 1729.7,1599.3C1730.4,1599.3 1727.7,1611.0 1724.9,1618.2C1722.1,1625.4 1718.2,1633.8 1712.8,1642.3C1707.4,1650.8 1702.8,1659.1 1692.7,1668.9C1682.6,1678.7 1663.1,1694.1 1652.4,1701.1C1641.7,1708.1 1637.0,1708.2 1628.3,1710.7C1619.6,1713.2 1606.7,1715.8 1600.1,1716.4C1593.5,1717.0 1586.9,1715.7 1588.9,1714.3Z" fill="#222228"/><path d="M1543.2,1726.1C1547.9,1721.4 1566.1,1705.0 1574.3,1697.7C1582.5,1690.5 1586.3,1687.6 1592.4,1682.6C1598.5,1677.6 1607.7,1669.7 1610.8,1667.5C1613.9,1665.3 1613.9,1666.2 1610.8,1669.3C1607.7,1672.4 1598.5,1680.8 1592.4,1686.2C1586.3,1691.6 1582.0,1695.2 1574.3,1701.9C1566.6,1708.6 1551.2,1722.1 1546.0,1726.1C1540.8,1730.1 1538.5,1730.8 1543.2,1726.1Z" fill="#222228"/><path d="M1543.2,1726.1C1544.2,1725.7 1560.1,1728.5 1568.3,1730.9C1576.5,1733.3 1584.4,1736.8 1592.4,1740.6C1600.5,1744.4 1609.0,1748.8 1616.6,1753.8C1624.1,1758.8 1638.7,1770.3 1637.7,1770.7C1636.7,1771.1 1619.0,1760.7 1610.5,1756.3C1602.0,1751.9 1594.4,1748.0 1586.4,1744.2C1578.4,1740.4 1569.5,1736.3 1562.3,1733.3C1555.1,1730.3 1542.2,1726.5 1543.2,1726.1Z" fill="#222228"/></svg></body></html>
